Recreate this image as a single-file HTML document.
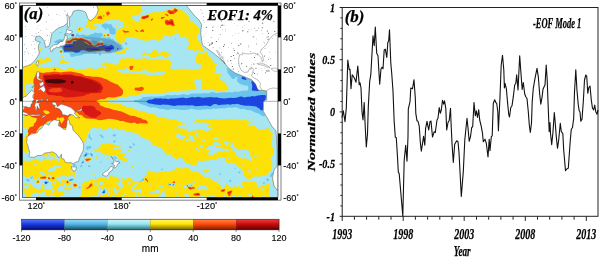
<!DOCTYPE html><html><head><meta charset="utf-8"><title>EOF Mode 1</title><style>html,body{margin:0;padding:0;background:#fff}svg{display:block}</style></head><body><svg width="600" height="258" viewBox="0 0 600 258">
<defs><clipPath id="mc"><rect x="22.5" y="5.4" width="255.5" height="192.1"/></clipPath>
<linearGradient id="g0" x1="0" y1="0" x2="0" y2="1"><stop offset="0" stop-color="#5a7cf8"/><stop offset="0.45" stop-color="#1c3ce4"/><stop offset="1" stop-color="#040a6a"/></linearGradient>
<linearGradient id="g1" x1="0" y1="0" x2="0" y2="1"><stop offset="0" stop-color="#9adcfc"/><stop offset="0.45" stop-color="#56b8e4"/><stop offset="1" stop-color="#0e4c64"/></linearGradient>
<linearGradient id="g2" x1="0" y1="0" x2="0" y2="1"><stop offset="0" stop-color="#d2f8fc"/><stop offset="0.45" stop-color="#98e4ee"/><stop offset="1" stop-color="#1e6e7a"/></linearGradient>
<linearGradient id="g3" x1="0" y1="0" x2="0" y2="1"><stop offset="0" stop-color="#fff870"/><stop offset="0.45" stop-color="#ffe400"/><stop offset="1" stop-color="#6e6000"/></linearGradient>
<linearGradient id="g4" x1="0" y1="0" x2="0" y2="1"><stop offset="0" stop-color="#ff8a50"/><stop offset="0.45" stop-color="#ff4a08"/><stop offset="1" stop-color="#7a1c00"/></linearGradient>
<linearGradient id="g5" x1="0" y1="0" x2="0" y2="1"><stop offset="0" stop-color="#f04040"/><stop offset="0.45" stop-color="#cc0c0c"/><stop offset="1" stop-color="#5a0000"/></linearGradient>
</defs>
<rect width="600" height="258" fill="#fff"/>
<g clip-path="url(#mc)">
<rect x="22.5" y="5.4" width="255.5" height="192.1" fill="#1c44e0"/>
<path d="M19.6,2.4 280.6,2.4 280.6,200.4 19.6,200.4ZM45.6,181.7 44.8,182.4 44.7,182.9 45.6,184 46.1,183.9 47.6,182.4 47.2,181.9ZM73.6,41.3 73.1,41.7 72.9,42.4 73,44.4 72.3,45.4 71.6,45.7 69.6,45.9 67.6,44.4 66.6,44.2 65.3,44.4 64.7,44.9 63.6,49.9 64.1,51.6 64.6,51.8 72.1,51.6 76.1,52.7 77.6,52.6 79.1,52 80.6,50.7 82.6,49.8 83.6,48.2 84.6,47.6 85.6,48 88.2,50.4 89.6,51 94.1,50.7 96.6,50.9 98.1,50.3 100.1,48.8 101.1,48.5 102.1,48.7 103.1,49.2 106.1,51.4 109.1,51.5 111.6,49.8 113.6,49.2 114.1,48.4 114.1,47.4 113.4,45.9 111.1,44.4 110.3,44.9 109.4,45.9 108.6,46.1 106.6,46.3 104.1,45.1 99.6,45.9 96.6,47.2 90.1,47.9 89.4,47.4 87.6,44.8 85.1,43.4 74.6,41.3ZM117.6,47.8 116.9,48.9 117.6,49.5 118.1,49.2 118.5,48.4 118.1,47.7ZM243.6,76.4 242.1,77.1 241.6,77.9 241.6,78.4 242.1,78.9 246.1,79.9 246.6,79.4 246.3,78.9ZM251.6,81.2 251.4,82.4 252,84.4 252.3,86.4 251.8,88.9 252.3,90.4 253.1,90.8 255.1,90.7 257.6,91 259.4,90.4 259.6,89.9 259.2,88.9 257.8,86.9 257,86.4 257,84.9 256.6,83.9 252.1,80.9ZM261.6,95 256.6,95.8 254.6,96.4 252.1,96.1 250.1,96.7 247.6,96.7 244.1,97.4 241.6,96.6 240.6,96.6 236.1,97.8 233.6,98 230.6,97.7 224.6,98.5 219.6,98.1 216.6,97.3 213.6,97.5 211.1,97 202.6,97.7 198.1,96.7 195.1,97.5 192.1,97.1 186.6,98.3 185.6,98.2 183.1,97.4 175.1,98.4 170.1,98.4 168.1,99.2 166.1,98.5 162.6,98.8 160.6,98.3 158.6,98.6 155.6,98.2 154.6,98.4 152.1,99.6 148.6,99.7 146.2,101.4 147.1,102.5 149.1,103.6 151.6,103.8 155.1,104.6 160.1,104.9 163.6,104.5 165.6,104.8 168.1,104.7 171.1,105.5 174.6,105.9 178.1,105.3 181.6,105.6 184.1,105.3 189.1,105.6 192.1,105.3 195.6,106.3 206.1,105.6 209.6,106.3 211.1,106 213.1,104.6 214.6,104.1 216.1,104.1 218.1,105.1 219.1,105.3 221.1,104.8 226.1,104.6 228.1,104.3 230.6,104.7 232.6,103.9 234.6,104.2 237.6,103.8 241.1,105.1 245.6,105.7 249.6,105.8 256.1,106.5 259.9,108.9 260.6,110 261.6,110.6 262.1,110.5 262.6,109.9 263.6,107.9 263.9,105.9 263.5,102.4 265.4,99.4 266,96.4 265.7,95.4 265.1,95ZM70.1,179.7 69.2,180.4 70.1,180.5 72.8,179.9 72.6,179.5 72.1,179.4ZM83.1,161.8 82.3,162.4 82.1,162.9 82.6,162.9 83.3,162.4 83.4,161.9ZM85.6,154.2 84.5,155.9 84.6,156.1 85.6,156 86.5,154.9 86.6,154.1 86.1,153.9ZM91.6,154.1 91.3,154.4 91.4,154.9 92.1,155.6 92.3,154.9ZM104.1,190.4 102.6,192.2 102.7,192.9 103.1,193.1 104.1,193.2 104.9,192.4 104.6,190.9ZM170.6,184.3 169,184.4 169.6,185 170.6,184.9ZM173.1,184.4 172.7,184.9 173.1,185.3 173.9,184.9 174.2,184.4ZM187.6,185.3 187.1,185.5 187.1,186.4 187.6,186.4 187.9,185.9ZM76.8,44.4 77.8,44.4 78.4,44.9 77.1,44.9Z" fill="#6cc4ee"/>
<path d="M19.6,2.4 280.6,2.4 280.6,200.4 19.6,200.4ZM26.1,179.3 25.9,179.9 27,180.9 28.6,181.6 29.5,181.4 29.6,180.4 28.6,179 27.6,178.9ZM29.1,91.8 29.1,92.1 29.6,92 30.1,92.9 30.6,92.4 30.6,91.9 30.1,91.4ZM31.6,176.6 30.3,177.9 30,178.9 30.6,178.9 33.1,177.7 33.1,176.9 32.6,176.5ZM43.1,157.9 44.6,158.4 45.3,157.9 44.6,157.8ZM49.6,137.6 49.4,137.9 49.5,138.4 50.6,139.8 51.2,139.9 52.3,138.9 52.5,138.4ZM61.8,32.4 58.3,31.9 60.3,32.9 61.8,32.9ZM94.6,32.7 93.6,33.7 91.6,34 87.6,35.6 85.6,35.2 83.1,34.2 79.1,35.2 78.7,34.9 78.4,33.9 77.1,33.3 76.3,33.9 76.3,35.4 75.1,36.6 74.1,36.9 72.1,36.6 71.4,37.4 75.1,37.4 77.1,36.5 78.6,37 80.6,36.8 82.1,37.1 86.6,38.9 90.1,39 91.3,39.9 91.4,40.9 92.5,42.4 93.2,43.9 94.1,44.4 96,43.9 96.6,43.3 97.4,41.9 98.1,41.3 100.1,40.9 100.6,40.3 101.6,40 102.6,40.8 102.9,41.9 104.5,42.9 104.6,43.9 104.3,44.4 102.6,45.1 99.8,45.4 96.6,46.6 90.6,47.5 89.6,46.9 88.1,44.4 85.6,42.9 78.6,41.7 74.6,40.7 73.6,40.7 73.1,41 72.5,41.9 71.7,44.4 71.1,44.9 70.1,45.2 67.6,43.7 66.6,43.6 64.6,43.8 62.7,42.9 62.1,42.4 62.5,41.4 62.3,40.4 61.1,39.1 60.1,39.1 56.6,40.2 54.2,41.4 54.2,41.9 54.6,42.5 55.3,42.9 59.1,43.4 59.8,44.9 61.4,46.9 62,49.4 63.1,50.9 63.6,52.9 64.6,53.1 67.1,52.8 69.6,53.4 70.2,53.9 70.2,55.9 71.1,56.7 72.1,57 73.6,56.8 76.6,55.7 78.1,55.8 81.6,55.3 84.1,54 88.6,52.9 92.1,52.5 94.6,53.4 96.1,52.5 100.1,52.1 102.6,50.9 104.1,51.2 106.1,52.6 110.6,53 112.6,52 115.1,51.6 118.6,50.4 120.6,50.2 123.1,48.9 123.5,48.4 123.5,47.9 123.1,47.7 120.5,47.4 121.2,45.9 117,43.4 114.1,40.8 112.6,38.4 111.8,38.9 111.1,38.9 109.1,37.1 108.6,37.1 107.1,38.3 105.6,37.6 103.1,37.2 101.6,38.3 101.1,38 100.8,37.4 100.9,36.9 101.6,36.7 102.6,37.3 102.5,34.9 102.7,33.9 102.4,33.4 100.6,32.8 97.6,33.3 96.6,33.1 95.6,32.5ZM104.6,23.2 101.6,24.8 101.2,25.4 103.1,27.4 104.6,28.2 104.7,29.4 105.1,29.7 106.1,29.7 106.7,29.4 106.9,27.9 108,27.9 109.4,30.9 109.5,32.9 110.1,33.9 111.1,34.3 113.6,34.8 114.9,34.4 115.6,33.4 115.7,29.4 114.6,28.2 113.1,27.8 111.6,24.5 111.1,24.1 109.1,24.4 107.6,23.8ZM126.1,42.3 125.1,42.7 124.7,43.4 125.2,44.4 126.1,44.8 127,44.4 127.3,43.9 127.1,42.9ZM129.1,146.2 128.6,146.9 128.9,147.4 130.6,148.2 131.6,148.2 132.3,147.4 131.6,146.6ZM132.6,142.9 133.4,145.4 134.1,145.6 134.8,145.4 135.1,144.9 134.9,144.4 133.3,142.9ZM175.6,38.3 175.2,38.4 175.2,38.9 175.6,39.6 176.1,39.8 176.3,38.9ZM226.6,67.9 226.4,68.4 227.3,69.9 227.4,72.4 231.6,78.1 232.6,79 234.1,79 235.5,77.4 236.6,76.7 237.1,76.8 237.6,77.9 236.8,79.9 237.6,81.9 240.1,84 243.5,84.9 244.1,85.4 247.1,85.5 247.9,86.4 248.5,87.9 248.2,89.4 247.6,90.2 246.6,90.7 243.6,90.4 238.1,91.8 234.6,91.6 231.6,92.4 229.6,92 226.6,92.4 224.6,92.2 222.1,92.4 220.6,92.2 218.6,93.1 217.6,93.2 212.1,92 208.1,93.4 205.6,93.1 200.6,93.5 191.6,93.6 187.6,95.1 183.6,93.9 181.1,94.8 178.1,95.2 174.1,94.8 171.6,95.6 169.6,95 166.6,95 163.1,96.3 160.6,96.2 153.6,96.7 150.1,96.4 145.1,97.1 143.1,97.1 142.6,97.2 141.1,98.9 137.6,100.1 134.6,100.1 133.9,100.9 133.8,101.4 134.6,102.1 138.1,102.4 139.6,103.5 143.1,104.8 145.1,105.3 147.6,106.6 150.6,107.4 154.1,107.3 157.1,107.9 160.1,109.1 163.1,109.1 166.1,109.8 168.6,109.8 173.1,109.1 176.6,109.6 178.6,109.6 180.1,109.9 185.1,110.1 189.1,109.6 191.1,108.8 195.6,109.7 198.1,109.7 200.1,110 202.1,109.6 205.6,109.5 207.6,109.1 210.1,109.4 213.6,108.6 215.6,108.8 222.6,108.2 224.6,108.4 228.6,107.6 232.6,107.7 235.6,107.1 240.6,109.2 244.1,109 246.6,109.9 250.6,110.2 255.1,112.5 259.1,113.8 262.1,115.9 264.6,116.3 265,115.9 264.6,113.9 263.6,112.4 263.4,111.4 264.1,109.2 265.7,107.9 264.6,103.4 266.9,99.4 267.8,93.4 267.6,92.7 267.1,92.2 261.1,91 260.6,89.4 258.6,86.4 257.5,83.9 256.1,82.6 253.1,80.7 252.2,78.4 251.1,77.2 250.5,75.4 249.6,74.4 248.1,74.1 246.1,74.6 244.1,74.5 241.6,74.9 238.1,73.4 232.6,69.3 230.1,69.4 227.6,68ZM272.1,171.9 271.1,173.9 269.9,175.4 270.1,176.4 270.6,176.9 271.4,176.9 272,176.4 272.4,174.9 273.4,173.9ZM276.1,173.8 275.9,174.4 276.1,174.7 276.6,174.7 277.2,174.4 277.1,173.8ZM44.6,181.2 44,181.9 44.1,182.9 45.6,184.6 46.6,184.4 47.6,183.1 49.2,182.4 49.1,181.9 48.1,181.5 46.1,181.1ZM50.1,149.5 49.3,149.9 50.1,150.4 51.1,149.9ZM57.1,152.7 57,153.4 57.6,154.2 58.6,154.5 59.8,154.4 58.1,152.8ZM63.7,154.4 61.1,154.6 60.6,154.9 62.6,155.7 64.1,155.4 64.1,154.9ZM70.6,178.8 68.9,179.9 68.6,180.4 68.7,180.9 69.6,181 72.6,180.5 73.5,179.9 73.6,179.4 73.1,178.7ZM73.1,163.2 72.8,164.4 73.2,165.9 73.6,166.3 74.1,166.4 75.5,165.9 75.6,164.9 74.6,163.4 73.6,162.9ZM79.6,186.5 79.1,187.1 78.9,187.9 79.1,188.3 79.6,188.5 80.5,187.9 80.6,187.4 80.1,186.5ZM81.1,164.5 80.6,164.9 80.4,165.9 80.5,166.9 81.1,167.3 81.9,166.9 82.3,165.9 81.6,164.7ZM83.1,160.3 81.2,162.9 81.6,163.7 83.1,163.2 84.3,161.9 83.9,160.9ZM86.6,152.1 85.1,153.1 84.6,154.4 83.3,155.9 83.3,156.4 84.1,157.1 85.1,157.1 86.1,156.7 87.6,154.8 89.6,154 90.1,154.3 91.6,156.4 92.6,156.6 93.1,156 92.7,154.4 91.6,153.1 90.6,153.1 89.6,153.7 87.7,152.9ZM90.1,133.8 89.6,134 88.6,135.4 88.5,136.9 89,137.9 91.6,140.1 92.1,139.7 92.1,138.9 89.9,136.4ZM99.6,53.2 99,54.9 99.6,55.7 100.1,55.6 101,54.9 101.1,53.9 100.6,53.2 100.1,53.1ZM104.6,188.8 103.2,189.9 101.9,192.4 102.1,193.4 102.6,193.7 104.6,193.6 105.5,192.4 105.3,189.4ZM111.1,162.8 110.3,163.4 110.5,163.9 111.1,164.1 113.1,164.2 113.8,163.9 114,163.4 113.8,162.9 113.1,162.6ZM113.6,134.2 112.7,134.9 112.5,135.4 113.1,136.4 114.1,136.5 116.1,135.9 115.9,134.9 115.3,134.4 114.6,134.1ZM118.1,160.6 117.2,162.9 117.4,163.4 118.6,164.1 119.6,164.1 120.4,163.4 120.3,162.9 119.1,161 118.6,160.5ZM143.6,178.3 141.1,180.5 139.1,181.5 139.6,181.7 141.1,181.4 144,179.9 144.1,178.9ZM161.6,168.5 161.1,169.4 161.5,169.9 162.2,169.9 163.1,169.4 163,168.9 162.1,168.4ZM168.1,183.8 168.3,184.4 169.6,185.3 170.6,185.4 171.2,184.9 171.2,184.4 170.1,183.7 168.6,183.6ZM173.1,183.8 171.9,184.9 172.1,185.5 173.1,186 174.1,185.6 174.8,184.4 174.1,183.7ZM188.1,184.9 187.1,184.9 186.6,185.9 187.1,186.9 187.6,186.8 188.5,185.9ZM191.6,184.8 190.7,185.4 190.6,185.9 191.1,186.4 191.9,186.4 192.3,185.9 192.1,184.9ZM219.1,172.9 218.7,173.4 219.6,174.7 220.1,175 220.9,174.9 220.7,173.9ZM230.1,179.6 229.5,180.4 229.2,181.4 230.1,181.9 231.1,181.5 231.5,180.9 231.1,179.9ZM235.1,167.8 234.5,168.4 235.1,169.2 235.6,169 235.8,168.4ZM239.1,171.3 238.3,172.4 238.3,172.9 238.6,173.3 239.1,173.3 240.9,172.4 240,171.4ZM263.1,182.3 262.7,182.9 262.9,183.4 263.6,183.7 265,183.4 265.6,182.9 265.1,182.4ZM267.1,178.1 266.5,178.9 266.8,180.9 267.1,181.2 268.6,180.9 268.9,180.4 268.8,179.4 267.8,178.4ZM88.6,165.3 88,165.9 87.9,166.4 88.6,167.1 89.6,167.2 90.4,166.4 90.5,165.9 89.6,165.2ZM90.1,145.4 89.1,146.4 87.6,146.1 86.6,147 86.2,147.9 86.6,149.9 87.1,149.9 88.6,148.8 90.7,148.4 91.2,146.9 90.7,145.9ZM95.1,177.8 95.6,178.4 96.2,177.9 95.6,177.4ZM99.6,134.4 99.3,134.9 102.1,137.8 103.1,138.3 103.6,137.9 103.6,136.9 102.9,135.9 101.1,134.7ZM114.6,140.3 113.2,140.9 113.1,141.9 113.6,142.5 114.6,142.6 115.5,141.4 115.6,140.9 115.2,140.4ZM100.6,161.4 100,161.9 100.1,162.4 101.6,162.4 101.6,161.8ZM114.1,156.3 113.5,156.9 114.6,157.8 115.1,159 116.1,159.3 116.6,158.4 116.2,156.9 115.3,156.4Z" fill="#a6e6f2"/>
<path d="M145.6,2.9 146.1,2.5 147.1,2.5 148.5,3.4 148.6,3.9 147.6,4.6 145.6,4.5 145.1,3.9ZM124,3.4 124.6,3.3 125.6,5.5 126.1,5.8 128.6,5 130.6,4.8 134.6,5.5 136.1,4.3 137.6,3.7 139.1,3.9 140.3,4.9 140.9,5.9 141.5,8.9 143.6,11.9 143.1,11.9 141.6,11 141.1,11 140.7,11.4 140.5,13.9 139.6,14.7 137.1,14.7 135.1,15.1 133.1,14.7 132.6,15 132.1,15.9 132.7,18.9 132.6,20.4 134.6,20.3 135.3,20.9 138.6,22.3 139.1,22.2 139.7,21.4 140.5,16.9 141.6,15.4 142.6,14.8 144.1,15.2 145.1,15.1 148.6,14 152.1,12.4 156.6,12 159.6,12.5 162.6,11.6 164.6,11.3 165.7,10.9 168.1,9 171.6,9.3 172.1,9 173.1,7.7 174.1,7.2 175.6,7.4 177,8.9 178.1,9.4 180.1,9 181.7,9.4 182.3,9.9 183.4,11.9 186,12.9 187.6,15.4 189.9,17.4 190.1,18.4 189.6,19.2 189.5,20.4 190.1,21.4 192.6,22 194.2,22.9 197.2,25.4 199.1,28.5 199.5,29.9 199.6,31.7 199.1,32.9 197,35.4 196.7,36.9 197,39.4 197.6,40.5 200.1,41.5 201.2,45.9 203.6,48.9 203.9,49.4 204,50.4 203.1,51.2 201.6,51.6 198.1,50.2 197.1,50.2 194.6,50.9 193.1,50.5 190.6,49.2 189.6,49 187.6,49.5 186.6,49.4 186.6,48.7 187.8,47.9 188.2,45.9 190,42.9 189.6,41.7 187.5,40.9 187.7,39.4 188.9,37.9 188.6,37.6 186.1,38.6 185.4,37.9 184.6,36.2 182.1,37 180.7,36.9 179.4,35.4 179.1,33.4 178.6,32.8 178.1,32.7 176.1,33.9 173.6,34.7 170.1,36.7 169.6,36.8 166.1,35.4 164.6,35.6 162.6,37.4 162.4,39.4 162.1,39.6 158.1,41 155.6,39.5 150.6,38.9 150.1,39 149,40.4 148.1,40.9 145.6,40.4 144.1,40.7 142.1,40.1 139.6,40.1 138.6,39.8 137.2,38.4 135.6,37.6 133.1,37.8 130.6,37.3 127.6,37.6 126.6,38 125.8,38.9 125.1,40.9 124.1,41.4 123.1,42.3 121.6,42.9 120.6,43 118.1,42.3 117.4,41.9 117.3,40.9 116.9,40.4 115.6,39.7 115,38.9 114.8,35.9 115.8,34.9 116.3,33.9 116.4,30.9 116.6,30.2 122.1,27.8 122.8,26.9 123.6,23.9 123.1,22.1 121.5,21.9 119.1,20.2 118.1,19.8 116.1,20 112.1,19.6 110.1,19.9 108.6,20.5 106.1,20.4 104.1,21.4 102.6,22.9 100.1,23.9 97.6,23.4 93.6,24.2 92.4,25.4 92.6,26 93.6,26.3 96.1,26.2 98.5,27.4 98.1,27.7 96.6,28 91.6,30 90.9,29.9 90.2,28.4 88.6,27.2 84.9,26.9 85.5,25.4 86.2,24.9 87.5,22.9 88.2,18.9 88.5,18.4 90.6,17.4 94.1,17.3 96,15.9 96.7,14.4 96.4,11.9 97.6,11.1 98.1,9.9 98,6.4 101.9,4.9 103.1,4.7 104.1,5 106.1,6 108.6,6.3 109.1,6.2 110.6,4.5 111.6,4.2 112.5,4.4 114.6,5.6 117.1,5.3 121.6,6 122.6,5.4ZM125.6,25.6 125.6,26.9 126.1,27.3 126.6,27 126.6,26.4 126.1,25.7ZM175.1,30.1 174.9,30.4 175.6,31 176.1,31.1 176.8,30.9 176.1,30.3ZM191.1,36.7 190.3,37.4 191.6,37.9 192.4,37.4 192.4,36.9 192.1,36.5ZM88.6,25.4 88,25.9 88.2,26.4 88.6,26.6 89.2,25.9ZM72.9,21.4 73.6,21 76.1,21.4 75.8,21.9 73.6,22.5 73.1,22.2ZM115.6,25.9 116.6,25.7 117.8,26.4 117.4,26.9 116.6,26.9 115.8,26.4ZM78.6,27.4 79.6,27.2 82.6,27.4 84,27.9 81.5,29.4 80.6,31.4 79.6,32.1 77.6,31.6 76.8,30.9 77.1,28.8ZM85.6,33.4 86.1,33 87.6,33.6 88.3,34.4 86.3,34.4ZM107.6,33.5 108.6,33.6 109.7,34.9 109.9,35.4 109.4,35.9 107.6,36.5 106.1,36.2 104.6,36.7 103.7,36.4 103.3,35.9 103.2,34.9 103.6,34.3 105.1,34 106.6,34.4ZM81,37.4 82.1,37.6 87.6,40 91.1,41.9 91.8,42.4 92.5,44.4 93.1,44.9 94.1,44.9 95.9,44.4 96.7,43.9 98.1,42.1 98.6,42 100.1,43 101.6,42.5 103.1,42.6 103.6,42.9 104,43.9 103.7,44.4 102.6,44.8 99.6,45.2 96.6,46.3 91.1,47.3 90,46.9 89,44.9 88.1,43.9 85.6,42.4 79.1,41.4 74.6,40.3 73.1,40.5 72.4,41.4 71.1,43.8 70.1,44.3 67.1,43.1 65.1,43.3 64.1,42.9 64.1,42.4 66.6,40.1 67.6,39.8 70.1,39.8 72.1,38.2 77.1,37.6 79.1,37.9ZM221.9,41.9 222.2,41.9 222.6,42.4 222.1,42.7 221.6,42.5 221.5,42.4ZM57,45.9 58.1,45.8 59.6,46.3 60.1,46.9 59.9,47.4 58.9,47.4 57,46.4ZM127.8,47.4 128.8,47.4 129.1,47.9 125.1,50.4 125.1,51.2 125.8,52.4 125.9,52.9 125.6,53.2 119.1,54.1 116.6,54.2 116.1,53.9 115.8,52.9 116.6,52 120.6,51.2 124.1,49.4 125.1,48.2ZM40.5,47.9 41.6,47.6 42.4,48.4 41.6,51.1 41.3,51.4 40.6,51.3 40.4,50.9 40.2,48.9ZM59.3,51.4 61.1,50 62.1,50.4 62.8,51.4 62.6,52.4 62.1,52.7 61.1,52.8 59.5,52.4 59.2,51.9ZM153.3,50.4 154.6,50 156.1,50.2 157.2,50.9 158.5,52.9 159.1,53.1 164.1,51.1 165.1,51.2 168.1,53.2 170.1,53.9 170.6,54.4 170.5,55.4 170.1,56 167.6,56.6 166.1,57.6 165.1,58 164.1,57.6 163.5,55.9 162.6,55.4 161.6,55.5 160.1,56.3 157.6,56.2 155.1,57.1 152.1,57.6 150.6,57.1 149.1,55.6 147.1,54.5 145.6,54.4 143.6,55.5 143.1,55.4 142.4,54.4 142.2,53.9 142.5,53.4 144.6,52.3 146.6,52.9 151.1,53.2 151.7,52.9 152.6,51ZM197.9,52.4 198.6,52.3 201.1,53.4 202.1,53.5 205.1,52.1 206.1,51.9 207.1,52.3 207.6,52.9 208,54.9 208.6,56.1 209.1,56.6 210.6,57.1 212.1,58.7 213.2,62.4 213.6,62.9 216.1,63.2 217.4,63.9 217.7,64.9 216.1,66.1 215.6,67 215.4,70.4 214.2,72.4 214.6,72.9 218.1,73.4 221.2,74.4 221.3,75.4 219.2,77.4 219.2,78.4 220.6,80.1 224.1,81.7 225.8,84.4 228.2,86.4 228.4,88.9 227.6,90.5 225.6,90.8 219.6,90.8 217.1,91.2 216.1,91 214.1,89.7 213.1,89.4 210.6,89.3 208.1,90.3 202.6,89.4 201.8,88.4 201.5,86.4 201.7,84.4 202.4,81.4 201.6,79.9 201.9,79.4 201.1,78.8 200.1,78.8 197,79.4 193.4,80.9 193.4,81.4 195.7,84.4 195.7,85.9 196.6,88.9 196.4,89.4 195.6,89.7 192.6,89.8 190.6,89.5 188.1,90.4 186.1,90.7 184.1,90.4 181.6,90.5 178.6,91.1 176.1,90.9 172.1,92.1 169.6,91.9 167.1,92.5 165.1,92.4 162.1,93.7 159.6,93.1 156.1,93.7 153.1,93.3 147.6,94.1 145.1,93.7 141.6,93.7 138.6,95 135.6,95.5 132.1,95.3 126.6,97.1 123.1,96.7 119.6,97.2 118.1,97.9 117.1,99.4 111.6,99.5 109.6,100.2 107.1,100.5 106.3,100.9 106.4,101.4 109.6,102.8 112.1,102.4 116.6,103.4 120.1,103.8 126.1,106.8 133.1,108.3 136.6,110.2 142.6,111 147.6,112.9 153.6,113.8 154.6,114.4 155.6,116 158.1,117 162.1,117.3 168.1,118.9 174.1,119.5 175.6,119.4 177.6,121 181.9,122.4 186.1,125.4 185.6,125.5 182.6,124.6 180.1,125.1 178.6,125 178,125.9 177.7,127.4 179.6,128.4 182.1,128.2 183.6,129.2 186.6,128.2 186.6,128.9 186,129.9 189.6,131.7 193.1,130.6 196.1,130.8 197.4,129.4 198.1,129.1 200.6,129.9 203.1,130 206.1,131.3 210.6,130 211.8,129.4 212.1,128.9 212.2,127.9 211.6,127.1 209.1,127.6 207.9,126.9 207.8,125.9 208.1,125.5 210.1,124.4 210.3,123.9 209.1,123 202.1,122.5 199.6,122.8 197.1,122 194.6,123 194.1,122.8 194,122.4 194,121.9 194.8,120.9 197.1,119.4 199.6,119.8 202.6,119.6 205.1,118.9 208.6,119.7 213.1,118.9 217.6,119.7 221.1,119.8 223.6,119.1 226.6,119.7 231.1,118.6 233.6,119.5 236.1,119.8 238.6,119.7 241.1,120.4 242.8,119.9 242.6,119.5 241.2,119.4 244.1,119.5 244.6,119.2 246.1,119.2 246.6,119.7 247.3,121.4 248.6,122.3 250.1,122.1 252.1,120.6 252.6,120.6 253,120.9 252.1,122 250.6,122.5 248.6,123.9 248.1,125.4 248.6,126.3 251.1,126.2 254.1,125.4 254.6,125.6 256.2,127.4 259.6,129.7 263.6,129.5 266.6,128.6 268.1,127.9 268.6,128 269.5,130.4 271.6,132.9 273,133.9 272.2,136.9 272.6,139.4 271.3,141.9 271,143.9 271.2,144.9 272.7,146.9 273.2,148.4 273.5,150.4 273.2,152.4 273.6,153.9 273.3,154.9 271.1,156.5 270.6,157.9 271.5,161.9 273,165.4 271.6,166.7 271.3,167.4 271.4,168.4 272.3,169.4 272,169.9 270.6,170.7 269.1,172.2 267.2,173.4 266.8,174.9 266.1,175.7 265.1,175.9 263.1,175.7 260.1,176.5 254.1,176.6 252.6,177.3 251.6,178.4 250.6,179 249.1,179.2 247.7,178.9 246.2,177.9 243.5,174.9 243.2,173.9 243.2,171.9 242.8,170.9 240.6,168.6 235.8,164.4 231.1,162.4 230.1,162.6 228.1,163.6 227.1,163.1 224.9,160.4 224.7,159.4 224.9,158.9 225.9,158.4 226,157.9 225.1,157 221.1,158 218.6,158.1 216.4,159.9 215.6,160.2 213.6,159.1 212.6,159.4 212.1,160.3 210.6,159.8 208.1,160.5 205.6,160.4 203.6,160.8 201.1,162.1 200,161.9 198.6,160.4 197.1,160.2 196.8,160.4 196.7,160.9 197,162.4 196.8,164.9 196.1,165.5 194.6,165 192.6,165.2 191.1,164.6 186.6,163.6 185.2,162.4 182.6,158.4 182.1,158 181.1,157.7 179.6,157.7 178.6,158.2 177.6,159.2 176.6,159.4 174.6,158.1 173.1,158.2 172.6,158 172.1,156.9 172.6,155.4 171.6,154.6 170.1,154.3 168.1,154.8 165.1,154.3 164.6,151.9 163.2,149.4 162.6,148.9 160.1,147.7 158.1,147.1 156.6,146.1 153.1,145.3 151.3,143.4 150.3,140.9 149.6,140 147.6,139.2 144.6,138.5 142.1,136.9 139.2,135.9 138.7,135.4 138.7,134.4 138.3,133.9 131.6,131.9 129.6,131.9 126.1,131.3 123.6,129.7 122.6,129.3 121.5,129.4 119.6,130.5 119.1,130.4 117.1,128.8 115.1,128.1 114.1,128.4 113.1,129.5 112.6,129.6 111.1,128.2 109.1,127.6 106.1,129.6 103.1,130.3 102.2,129.9 101.1,128.5 99.6,127.7 98.1,128.6 97.1,128.8 94.1,127.4 93.6,127.5 91.6,128.3 88.9,131.4 88.2,133.9 87.3,135.4 87,136.9 86,138.9 86.5,141.4 84.6,142.2 83.6,142.4 79.6,141.6 78.8,140.9 79.1,139.4 78.7,138.4 74.4,134.9 73.2,132.4 73.1,129.4 72.6,129 70.6,128.7 68.6,126.9 67.6,126.8 67.1,127 66.1,128.7 61.6,129.5 60.6,129.2 58.2,125.4 58.5,124.9 58.1,123.4 58,121.9 57.6,121.2 54.6,122 50.6,121.5 49,121.9 43.1,126.1 40.3,127.4 38.1,130.3 37.4,132.9 36.1,134.4 33.1,135.3 30.1,137.3 29.4,141.9 30.3,143.9 30.4,144.9 27.4,147.9 27.6,148.4 29.6,149.7 30.8,150.9 31.4,152.4 31.1,153 29.6,151 29.1,150.9 26.6,152.9 23.6,152 23,151.4 22.3,149.4 20.9,147.9 20.9,146.9 21.7,144.9 22.2,139.4 22.6,138.7 24.6,137 26,134.4 26.9,133.4 27.1,132.4 26.9,130.9 27.6,128.9 27.1,128.5 25.1,128.6 23.6,128 22.4,125.4 22.4,124.4 24.3,119.4 24.4,118.4 24.3,116.9 23.6,114.6 21.8,111.4 22,110.4 23.8,107.9 23.6,106.5 21.8,103.9 21.7,102.9 21.9,101.9 22.8,100.9 23.5,99.4 23.4,97.9 22.5,96.4 22.2,94.9 23,90.9 23.1,88.4 24.4,85.9 24.4,85.4 22.5,83.4 22.4,82.4 22.8,79.9 21.8,76.9 22.6,74.9 22.5,71.9 22.9,70.9 22.7,69.9 23.3,67.9 22.3,65.9 22.6,65.2 24.6,64.7 27.1,65.5 27.6,65.4 28.6,64.8 30.5,64.4 31.3,63.4 32.1,63.1 34.6,64 35.5,63.4 37,60.4 40,58.4 41.6,58.1 42,58.4 42.3,59.9 43.6,60.2 44.6,59.7 45.7,57.9 46.6,57.3 51.1,58.9 51.4,60.4 51.1,60.7 49.1,61.3 47.1,62.6 44.1,62.8 41.6,64.2 39.1,64.6 37.7,65.9 37.6,66.4 38,66.9 39.1,67.1 41.1,66.4 43.3,67.9 44.6,68.2 46.1,68 48.1,67.1 49.1,66.9 50,67.4 50.6,68.8 51.1,68.7 51.9,67.4 52.6,66.8 56.6,66.7 58.6,67.2 61.1,69.3 64.6,70 65.5,69.9 69.4,67.4 70.6,67 71.9,67.4 74.1,69.1 76.6,69.7 79.1,69.5 81.6,68.8 84.6,69 90.1,68.1 92.6,68.4 96.1,69.6 97.1,69.3 99.2,67.4 103.1,66.5 104,66.9 104.6,68.7 105.6,68.9 106.1,68.7 106.6,68 106.6,66.6 105.1,66 103.6,64.9 101.6,64.7 101.4,64.4 102.6,63.4 104.1,62.7 106.1,62.3 108.6,63.1 111.1,63.4 113.6,64.6 116.6,64.6 118.5,63.9 119.2,61.4 120.6,58.9 121.6,58.2 122.6,58.2 123.6,59.2 124.1,59.2 125.6,58.2 130.6,58.4 132.6,57.5 134.1,58.8 135.1,59 141.1,58.8 144.1,58.1 145.8,58.4 148.1,59.2 151.6,59.6 153.6,59.6 157.1,58.8 160.1,60.2 162.1,59.6 164.6,60 169.1,60.1 170.9,61.4 171.4,62.4 170.3,67.9 170.3,68.4 170.6,68.8 173.1,69.1 175.6,70 178.6,68.7 183.1,68.8 185.1,68.6 188.6,69.8 192.1,70 194.6,69.6 196.6,69.7 200.1,68.6 202.4,67.4 202.4,66.9 201.4,65.9 200.6,64.1 200.1,63.8 199.1,64.5 198.1,64.3 195.4,61.4 195.4,59.4 196.3,56.9 196.3,55.4 197.4,53.9ZM158.1,120.2 157.1,120.9 157.1,121.9 158.1,122.2 158.7,121.9 158.7,120.4ZM168.1,141.8 167.9,142.4 168.6,143 169.1,143 169.8,141.9 169.1,141.5ZM175.6,127.7 174.6,128.4 174.8,128.9 176,128.9 177,127.9 176.6,127.6ZM177.1,133.2 175.6,136.9 175.6,137.5 179.6,138.4 180,139.4 180.6,139.9 181.6,140.1 182.6,139.8 183.1,139.4 183.4,138.4 185.2,136.4 184.6,135.5 183.1,134.7 180.6,134.8 178.1,133ZM189.1,133.7 188.5,134.4 188.6,134.9 189.8,135.9 190.3,137.9 189.6,138.4 187.1,138.9 185.6,139.5 185.1,139.9 185,140.4 185.3,140.9 186.1,141.5 186.6,141.4 188.1,140.6 189.6,140.3 193.1,141 194.7,140.9 195,140.4 194.6,139.4 192.8,137.9 193.5,136.9 193,136.4 190.8,135.4 189.7,133.9ZM197.6,131.5 196.9,132.4 195.4,133.4 195.4,133.9 196.1,134.8 197.1,135.4 196.4,136.4 196.4,136.9 197.1,137.4 197.6,137.4 198.5,136.9 198.5,136.4 197.6,135.5 197.2,135.4 198.1,134.8 198.6,133.9 198,131.9ZM201.1,145 199.5,145.9 199.3,146.4 200.1,147.5 202.1,147.3 203.3,146.4 203.2,145.9 202.1,145.1ZM202.1,139.4 202,139.9 203.1,141.6 205.6,142 206.7,141.9 206.8,141.4 203.6,139.6ZM213.1,137.2 212.8,137.9 213.6,139.4 214.1,139.6 218.6,139.6 219.2,139.4 219.5,138.9 215.6,137.1ZM222.6,138.4 221.4,138.9 221.6,139.4 222.6,139.6 223.5,139.4 223.5,138.9 223.1,138.5ZM225.1,140.8 224.1,142.4 224.2,142.9 225.8,145.4 226.6,145.8 227.6,145.7 228.1,145.4 228.1,143.8 229.5,142.9 229.2,142.4 226.9,140.9 225.6,140.5ZM231.6,131.3 231.2,131.9 231.6,132.3 232.1,132.2 232.3,131.9 232.1,131.4ZM239.1,131.8 238.7,131.9 238.7,132.4 239.1,133 239.6,133.1 240,132.9 240.1,132.4ZM255.1,154.3 253.9,155.4 254.1,156.4 256.1,156.7 257,156.4 257.2,155.9 256.7,154.9 255.6,154.3ZM32.1,83.8 28.6,84.3 26.6,84.1 26.2,84.4 25.3,88.4 26.1,93.4 30.1,94.6 32.1,93.6 33,92.4 33.2,86.9 32.9,84.9 32.6,84.2ZM89.8,127.4 88.3,127.4 88.3,127.9 88.6,128 89.5,127.9ZM126.1,68.3 124,69.9 120.6,69.8 118.6,70.1 117.1,69.9 116.6,70.9 117.1,71.6 117.6,71.8 119.1,71.8 122.6,73.1 128.6,72.8 131.6,73.2 133.1,74 135.1,73.8 141.6,74.2 144.1,74 147.7,74.9 151.1,75.3 153.6,74.8 156.1,75.1 162.6,74.7 164.4,73.9 165.3,72.4 164.1,71.6 162.6,71.7 159.6,71 158.1,71.3 155.6,72.5 150.1,72.6 149.1,72.2 147.6,70.6 145.6,70.2 142.1,70.5 139.1,71.6 137.6,71.7 135.1,71 131.6,71 129.1,70.6 128.6,70.2 127.6,68.2 127.1,68ZM175.6,147.2 175.3,147.4 175.5,147.9 176.1,148.2 177.6,147.9 177.3,147.4ZM189.1,144.8 189.1,145.4 189.6,145.7 190.1,145.4 190,144.9ZM196.6,147.4 195.6,147.9 195.8,148.4 197.2,149.4 198.1,151.1 199.1,151.4 199.6,151 200,149.9 199.6,149.1 199.1,149 197.6,149.2 197.4,147.9ZM214.6,141.7 213,143.9 212.8,144.9 212.1,145.6 210.1,145.7 209.1,146.1 207.1,147.3 206.4,148.4 206.4,149.4 207.1,150 208.6,150 209.9,150.9 209.9,151.9 209.6,152.2 208.1,152.6 208,152.9 207.9,153.9 208.6,154.7 210.6,155.9 212.1,155.9 213.4,155.4 213.6,154.9 212.6,153.4 213.1,152.7 213.6,152.7 214.6,153.9 215.1,154 215.9,152.9 216.7,152.4 219.1,151.6 221.1,151.6 224.1,150.4 224.6,150.4 225.6,151.5 226.6,152 227.6,151.6 228.6,150.9 228.9,149.9 228.1,148.8 225.6,149 224.1,148.6 221.5,148.4 218.6,147.1 216.1,147.3 215.6,146.9 215.6,146.4 216.1,145.7 219.6,146.2 220.6,145.8 221,144.9 219.9,143.4 219.1,142.9 216.1,141.5ZM232.1,141.2 231.5,141.9 231.4,142.4 232,143.4 231.7,143.9 230,144.9 229.4,145.4 229.5,145.9 231.1,146.9 233.2,147.4 233.2,147.9 231.6,148.9 231.4,149.4 231.5,149.9 235.6,151.7 236.2,152.9 236,154.4 236.2,154.9 241.6,158.8 244.6,158.2 247.6,159.1 249.1,160.4 250.1,160.8 251.6,160.5 252.5,159.9 252.5,158.9 250.7,156.9 250.4,154.9 248.9,152.9 249.3,151.4 248.7,150.4 245.6,149.3 243.1,149.8 240.6,148.9 239.6,150.7 237.1,149.5 236.6,148.9 236.6,148.3 237.1,147.9 236.7,147.4 234.6,146.8 233.1,145.4 233.2,144.4 232.3,142.9 232.5,141.9ZM256.6,168.1 256.2,168.4 256.6,169.5 257.6,170 258.7,169.9 258.8,169.4 258.4,168.9 257.6,168.3ZM216.1,154.8 215.6,155.9 216.6,156.1 217.4,155.4 217.1,154.8ZM229.1,158.1 227.4,158.4 227.8,158.9 229.6,158.9 229.6,158.4ZM243.6,163.9 242.1,164.4 242.1,164.9 243.1,165.4 244,164.9 244.2,164.4ZM249.1,169.6 247.6,171.4 249.6,172.9 250.1,173 250.5,172.4 250.5,170.4 250.1,169.8ZM60.8,55.9 62.1,54.9 62.6,55 62.9,56.4 62.6,57.7 60.7,56.4ZM63.1,58.9 64.3,60.4 65.1,60.9 68.6,61.7 69.1,61.9 69.2,62.4 68.6,62.7 65.6,63 63.6,64 60.6,63.8 60.1,63.5 59.6,62.4 59.9,61.4 61.1,60.1 62.6,58.9ZM108.4,142.9 110.1,142.7 112.6,144.4 115.1,144.7 117.6,146 119.1,145.8 120.1,146.1 120.4,146.4 120.1,146.9 118.1,146.7 115.1,147.3 113.1,148.9 112.9,149.4 116.1,149.7 119.1,148.4 120.1,148.5 121.7,149.4 122.1,149.9 122,150.4 120.6,151.9 120.3,152.4 120.4,152.9 121.1,153.4 122.6,153.8 124.6,153.2 125.1,153.3 125.3,153.9 125.1,154.8 123.7,155.9 123.7,156.4 125.2,157.9 127.7,158.9 128.2,159.4 127.8,160.4 126.6,160.7 124.6,161.9 123.1,161.9 123,160.9 122.5,160.4 119.1,159.5 117.6,156.4 116.1,155.1 114.1,155 110.1,155.9 106.1,154.3 104.1,154.7 103.6,154.6 101.6,152.4 97.1,151.1 96.6,151 95.1,152.1 94.6,151.9 94.2,150.4 95.1,149.1 96.6,149.2 99.6,148 100.5,147.4 100.8,146.9 100.1,145.4 101.1,144.1 102.6,143.4 104.6,144.3ZM124.7,149.4 125.6,149.3 125.9,149.9 124.6,149.9ZM128.1,149.4 129.2,149.4 129.7,149.9 129.6,150.4 128.6,150.9 127.4,150.4 127.2,149.9ZM51.2,151.9 53.1,152 55.5,154.4 55.8,155.4 55.1,156.7 54.6,156.8 53.1,156.2 50.6,156.5 49.1,156 46.6,156.6 45.1,156.6 43.1,156.2 41.6,155.2 40.6,154.8 38.1,155.1 37.9,154.9 42.6,152.5 45.1,153.3 47.1,152.5 48.1,154.4 49.1,155 50.2,154.4 50.2,153.4 48.5,152.4 49.1,152 50.1,152.2ZM241.1,152.4 241.7,152.9 241.6,153.7 241.1,153.7 240.8,153.4 240.6,152.9ZM243.8,154.4 245.1,154 245.2,154.4 244.6,155 244.1,155.2 243.6,154.9ZM96.9,154.9 97.6,154.6 98.1,154.9 97.8,157.9 97.1,158.6 96.1,158.7 95.5,158.4 95.6,157.9 96.4,156.9 96.5,155.4ZM59.1,159.4 60.6,157 61.1,157 64.6,157.1 65.1,157.4 66.1,158.9 67.1,159.3 68.5,158.9 69.6,157.8 69.8,157.9 69.8,158.9 71.4,160.9 71.8,161.9 71.4,164.9 71.7,167.4 70.4,170.9 71.6,174 72.1,174.5 73,173.9 72.2,172.4 72.2,171.4 72.4,170.4 73.3,169.4 75.1,169.1 76.2,170.9 76.2,171.4 74.8,173.4 74.6,174.9 74.3,175.4 74.8,176.4 74.6,177.5 72.1,175.5 68.6,176.5 62.6,176.1 58.6,177.1 56.1,177 55.5,177.4 56.1,178.8 58.3,179.4 58.2,180.4 58.6,181.4 60.6,183 61.5,182.9 61.6,182.4 61.2,181.4 61.5,180.4 63.1,179.5 65.6,180 67.1,179.5 67.6,179.6 68.6,181.2 70.5,181.9 71,182.4 70.9,183.4 70.1,184.4 66.1,186.8 65.6,186.7 65.5,186.4 65.8,184.4 65.6,183.9 64.1,182.5 62.9,182.4 62.3,182.9 62.6,183.1 63.2,184.4 63.2,185.4 62.7,185.9 62.1,186.2 60.6,186 59.6,186.3 57.3,188.4 57.4,189.4 58,190.9 58.5,191.4 61.6,191.4 64.8,192.9 63.5,193.9 62.6,195.6 62.1,196.1 60.6,195.7 59.8,195.9 58.6,197.3 58.1,197.3 56.1,197.1 54.1,194.7 53.1,194.8 48.5,196.4 45,195.4 44.6,194.4 45.6,192.4 45.1,191.7 44.6,191.6 43.1,192.2 41.4,192.4 40.2,193.9 39.6,194.1 39.1,193.9 38.1,192.5 37.6,192.3 34.1,193.1 30.9,194.9 30.6,196.5 29.6,197.6 28.6,197.6 26.6,196.8 25.9,195.9 24.7,192.9 22.8,191.4 22.4,190.4 25.1,187.6 25.9,188.4 27.1,189 27.6,189 28.6,188.4 29.2,186.9 28.3,185.4 28.4,184.9 29.6,183.9 31,183.9 31.6,185.4 32.5,186.4 35.6,187.6 37.1,189.3 38.1,189.6 39.6,189.4 41.6,187.9 42.2,186.4 41.8,184.9 42.6,184.2 44.1,184.4 44.7,184.9 44.8,185.9 43.9,187.9 44.6,189.3 45.6,189.9 48.6,189.9 50,189.4 51,188.9 51.6,187.2 53.2,186.9 53.3,186.4 51.2,183.9 52.6,181.9 50.6,180.9 48.4,180.4 47.6,178.4 47.1,178 45.6,179.1 40.6,179.5 39.4,178.9 39.1,176.6 38.6,176.8 37.9,178.4 38.4,179.4 39.4,180.4 39.5,182.4 39.1,183.1 38.1,183.6 36.1,183.7 35.3,183.4 35.3,182.9 37,180.4 36.6,179.6 35.6,179.1 35.1,179.2 33.7,180.4 33.1,180.5 32,179.9 32.5,178.9 33.6,178.4 33.9,177.9 33.1,176.1 31.6,176 29.1,177.1 27.6,177.4 26.1,177.1 23.1,175.7 22.1,175.7 21.1,176.1 20.2,175.9 20.1,174.9 22.1,172.4 22.7,168.9 22.4,166.4 20.9,162.4 20.9,161.4 21.2,160.4 22.1,159.9 25.1,160.8 28.6,161 31.6,160.6 32.6,160.3 33.8,158.9 35.1,158.6 38.1,159.5 39.3,161.4 40.6,161.8 41.4,161.4 42.1,160.4 43.6,160.6 46.6,159.3 47.6,159.4 49.1,160.1 50.6,160.4 54.1,158.9 55.1,158.2 56.1,158.4 56.6,158.8 57,161.4 57.6,161.8 59,161.4ZM52.1,188.7 51.3,189.4 51,192.4 50.7,192.9 49,193.9 49.1,194.7 49.6,194.8 50.1,194.5 51.6,193.1 53.1,192.6 54.4,191.4 54.6,190.4 54.1,189.2 53.1,188.6ZM35.1,163.8 34.1,164.4 34.1,165.3 36.1,166.2 36.6,164.4 36.1,163.8ZM40.6,170.9 40.1,171.4 39.9,172.4 41,173.9 41.2,175.4 41.6,175.6 44.1,175.3 45.5,174.9 45.7,174.4 45,173.4 44.1,172.9 43.1,172.8 41.6,171.2ZM55.6,165.2 51.6,167.7 49.6,168.2 48.1,170.2 47.6,171.9 48.1,172.2 48.6,172.2 49.6,171.2 51.6,171.9 53.4,171.9 53.9,170.9 55.8,169.9 56.3,167.9 60.6,167.4 61.1,166.9 60.8,165.9 60.1,165.4ZM48.6,174.4 47.6,174.9 48,175.9 49.6,176.9 50.9,176.9 51,175.9 50.6,175.1 49.6,174.5ZM54.6,181 52.7,181.9 54.6,183.4 55.8,183.4 56.1,182.4 55.1,181.1ZM106.6,158.4 107.6,157.6 108.1,157.7 108.6,158.4 108.3,158.9 107.1,158.9ZM75.9,158.4 76.6,158.1 77.1,158.3 77.5,158.9 77.4,159.4 76.6,159.7 76.1,159.4ZM84.6,158.4 86.6,158.4 88.6,158 91.6,158 91.9,158.4 91.6,159.4 90.6,160.3 87.6,161.8 86.6,162 85.7,161.4 84.3,159.4ZM132,158.9 133.2,158.9 133.7,159.4 132.1,160 131.7,159.4ZM132.4,165.4 133.1,165.1 133.6,165.4 133.8,165.9 133.4,167.4 132.6,168 131.6,167.5 131.1,166.4ZM175.9,167.9 176.6,167.5 178.1,167.5 181.1,168.8 186.1,167.6 187.1,167.6 189,168.4 190.1,170 191.6,171 194.1,171.1 196.1,171.7 197.6,171.2 199.1,172.9 200.6,173.4 203.9,176.4 205.6,177.6 206.6,177.8 209.6,177.6 211.2,179.4 216.2,181.9 217.6,182.8 219.1,184.3 221.4,185.4 220.6,186.9 220.7,187.4 221.1,188 222.1,188.5 223.1,188.4 224.1,188 225.3,186.4 224.1,186 224,185.4 227.1,184.1 227.6,184.2 228.1,185.9 229.1,186.4 232.6,187.1 234.6,186.4 236.6,186.7 238.6,186.1 239.7,186.4 240.5,187.4 241.1,187.8 242.1,187.8 242.9,187.4 243,186.4 241.2,183.9 241.1,182.9 243.1,181.9 246.1,181.1 247.1,181.1 250.1,181.8 254.6,181.9 256.3,182.4 257.1,182.9 257.1,183.4 256.4,185.4 257.6,186.8 259.6,187.4 261.1,185.8 263.1,184.9 265.6,185.3 268.1,182.9 268.6,183.1 269.2,184.4 268.9,186.9 269.8,189.9 269.1,194.4 268.1,194.9 267.8,195.4 268.1,195.7 269.1,195.5 269.7,195.9 269.9,196.9 269.7,197.9 269.1,198.4 266.6,197.7 266.1,197.8 265.1,198.9 264.6,199 263.8,198.4 264.8,196.4 264.1,196 262.6,195.8 261.9,196.4 262,197.9 261.7,198.4 261.1,198.6 259.6,198.7 256.6,198.1 254.6,199.2 251.1,199.7 246.1,197.1 245.1,197.1 243.1,197.9 242.1,197.7 241.1,196.3 239.6,195.3 239.1,195.5 238.1,196.9 237.1,197.2 235.8,196.9 234.1,195.5 233.6,195.4 232.6,195.7 229.8,198.4 228.6,198.8 225.5,197.9 225,196.9 225.1,195.2 224.6,194.7 224.1,194.6 223.5,196.4 222.9,196.9 219.1,198 217.1,197.8 216.1,197.4 215.5,196.9 215.1,195.4 214.6,194.9 211.1,195.1 210.1,195.9 210.2,196.4 211.3,197.4 209.1,197.6 206.1,198.6 205.1,197.9 204.1,195.9 202.6,195 201.6,195.3 199.6,197.4 198.5,199.4 196.6,199.8 195.5,199.4 194.3,197.9 193.6,197.5 191.1,197.7 190.4,197.4 187.6,193.6 186.6,193 185.6,193.4 184,194.9 184.3,195.4 185.2,195.9 185.4,196.4 184.6,198.9 184.1,199.5 182.1,199 179.1,196.6 177.6,196 174.6,197 172.6,197 170.6,198.5 168.6,198.3 166.6,198.7 165.3,198.4 166.3,197.4 166.3,195.9 164.5,192.4 163.6,191.4 161.5,192.4 160.7,194.4 159.1,195.5 158.1,197.1 157.6,197.4 156.1,196.9 155.6,197.1 154.6,198.2 153.6,198.7 150.1,198.5 147.6,198.7 146.9,198.4 145.6,196.8 144.6,196.3 139.1,196.7 136.8,195.9 136.2,192.9 137.1,192 138.1,191.5 138.9,191.9 139.5,193.4 139.9,193.9 141.1,194 141.2,191.9 142.2,189.9 141.6,188.8 140.6,188.4 139.1,188.5 137.6,189.8 133.6,189.1 133.5,188.4 134.1,187.4 137.1,184.4 137.2,183.9 136.1,183 135.6,183 134.6,184.4 132.7,185.9 131.5,189.9 131.6,190.4 132.1,190.8 133.6,191 134.1,191.3 135.5,192.9 135.5,193.4 134.4,194.9 134.4,195.4 135.5,196.4 134.1,198.4 132.6,198.4 128.6,197 126.6,197.9 125.6,197.9 122.6,196.3 119.6,197.2 116.1,197.2 115.2,196.9 114.1,195.6 113.6,195.4 112.1,195.9 110.8,197.4 110.1,197.6 106.6,197.5 101.6,198.9 101.1,198.5 100.5,196.9 99,195.4 99.1,194.4 99.6,193.6 100.1,193.3 100.7,194.9 101.6,195.7 102.1,195.7 105.1,194 107.1,192.6 108.3,191.4 108.3,190.9 107,189.4 106.4,188.4 105.6,187.9 104.1,188.3 102.1,189.8 101.4,188.4 99.1,186.9 98.3,185.9 97.6,183.2 97.1,182.8 95.1,182.3 94.6,182.4 93.3,183.9 93.6,184.4 96.1,184.2 97.1,184.9 97.9,185.9 98.8,189.9 97.9,194.4 96.6,196.3 94.6,195.9 92.6,196.6 90.1,196.5 89.1,196.7 85.1,198.7 80.6,199.1 80.2,198.9 80.2,196.9 81.6,193.4 81.6,192.9 80.7,191.4 81.1,189.9 82.6,187.9 82,183.9 82.2,183.4 85.1,181.5 86.1,181.4 87.9,181.9 88.2,180.9 88.9,180.4 91.6,180 93.1,179.4 95.1,180.2 96.1,180.2 98,178.9 99.1,177.3 100.1,176.8 100.8,176.9 101.6,177.7 104.1,177.8 107.6,178.9 108.6,178.4 109.6,176.8 110.6,176.1 114.1,176.8 116.1,176.4 116.8,177.4 118.6,178.4 120.3,180.4 120.6,181.4 119.6,182.7 119.1,182.8 117.6,182.2 116.6,182.2 116.2,182.9 116.2,183.4 116.6,183.9 118.6,185.1 119.6,188.1 120.1,188.4 121.1,188.3 122.9,187.9 123.7,186.9 123.6,185.3 122.1,183.4 122,181.9 122.3,180.9 123.6,179.6 124.6,179.1 126.6,178.6 128.6,177.7 130.6,177.9 132.6,180.8 135.6,181.5 136.9,181.4 138.1,182.6 139.1,182.6 143.1,181.3 144.7,179.9 143.7,176.9 146.1,176.1 146.7,175.4 146.9,174.4 146.6,172.4 147.1,170.4 147.6,169.9 148.1,169.9 148.6,170.4 148.2,171.4 148.6,172 152.1,171.7 155.1,172.4 159.1,172.2 164.1,171 167.1,171.5 168.6,170.8 170.6,171.1 172.6,170.8 174.1,170.1ZM176.1,170.7 175.7,171.4 176.1,172 177.6,172 178.1,171.4 177.6,170.6ZM181.1,183.3 180.6,183.7 180.3,185.4 180.6,186 181.6,186.1 182.3,185.9 182.3,185.4ZM191.6,183.9 189.1,184.3 187.6,184.1 186.6,184.7 186.1,185.5 184,185.9 183.8,186.4 184.2,188.4 184.6,188.7 186.1,187.8 187.1,187.6 189.1,186.1 189.6,186.1 191.1,186.9 192.1,186.8 192.9,185.9 193,184.9 192.6,184.2ZM193.1,182.1 192.6,182.4 192.5,182.9 193.1,183.3 194.1,183.4 195,182.9 194.6,182ZM195.1,186.1 195.1,187 195.6,187.5 196.1,187.5 196.2,186.9ZM196.6,190.7 196.1,191.1 196.1,192 196.6,192.2 197.9,191.9 197.6,191.2ZM200.1,185.1 197.8,187.4 197.7,187.9 199.1,190.4 199.6,190.7 200.1,190.5 201.1,188.9 202.1,188.5 204.1,188.8 206.6,190.3 207.6,189.9 208,189.4 208.2,187.9 207.1,186.9 205.1,186 202.6,186ZM209.1,182.1 209.6,183.3 210.1,183.2 210.1,182.6 209.6,182ZM212,188.9 210.9,188.9 211.1,189.6 211.6,189.9 212.1,189.6ZM249.1,193.4 248.2,194.4 247.9,195.4 249.1,196.7 250.1,196.8 250.6,196.6 251,195.9 250.8,194.4 250.1,193.2ZM253.6,186.4 252.2,186.9 251.9,187.4 252.1,187.7 253.7,186.9ZM262.6,188.3 261,189.4 260.6,189.9 260.6,190.4 261.6,190.6 263.1,190.5 264.9,189.4 264.8,188.9 264.1,188.3ZM100.1,181.3 99.3,181.9 98.9,183.4 99.6,184.4 101.1,185.8 101.6,185.6 103.4,183.4 103.9,182.4 103.5,181.9ZM109.6,187.3 108.9,187.9 108.7,188.4 109,188.9 109.6,189.1 110.6,188.5 110.8,187.9 110.6,187.4ZM114.6,187.6 113.9,188.4 113.2,190.9 114.6,192.3 114.6,194 115.6,194.5 116.6,194.4 117.1,193.9 117.6,192.2 118.7,191.9 119.1,190.4 118.6,189.8 116.6,190.6 116,189.9 115.7,187.9 115.1,187.5ZM123.6,193.2 123.1,193.8 123.1,194.4 123.6,195.1 124.6,195 125,194.4 125,193.9 124.6,193.4ZM129.1,181.8 128.1,182.4 127.9,183.4 128.6,184.6 129.6,184.8 130.6,184.2 130.8,182.9 130.1,182ZM143.1,181.9 142.9,182.9 143.1,183.4 143.6,183.6 144.1,183.3 144.2,182.4ZM149.6,184.2 149.2,184.9 149,186.4 149,186.9 149.6,187.3 150.1,186.9 150,185.9 150.7,184.4 150.1,184ZM163.4,185.4 160.1,185.9 158.1,186.9 153.9,186.9 154.1,187.2 156.6,188 158.6,187.5 160.6,188.3 162.1,186.7 163.5,186.4 164,185.9ZM167.6,182.9 166.6,183 166.4,183.4 169.6,185.6 170.6,186 171.6,185.6 172.6,186.7 173.6,186.7 174.5,186.4 175.5,184.9 175.4,183.9 174.1,183.4 171.6,184.1 170.1,183.2ZM176.6,191.5 176.4,192.9 176.6,193.5 177.1,193.4 177.4,192.9 177.1,191.7ZM177.6,187.3 177.1,187.4 176.8,187.9 177.1,189.1 177.6,188.7 178,187.9ZM207.1,193.7 206.6,194.9 207,195.9 208.1,196.5 209.3,196.4 209.6,195.9 209.3,195.4ZM109.6,191.8 107.4,193.4 106.8,195.4 106.7,195.9 107.1,196.3 108.1,196.3 108.6,196 109.9,193.9 110.3,192.4 110.1,191.9ZM157.6,189.8 156.1,190.1 154.1,191.1 151.1,191.3 150.1,191.9 149.8,192.4 149.9,192.9 150.6,193.4 152.6,193 154.1,193.2 155.6,192.5 157.6,193.6 158.6,193.7 159.7,192.9 159.7,191.4 159.1,190.2ZM163.6,189.4 163,189.9 163.6,191.3 164.8,190.4 164.8,189.9ZM171.6,190.3 171.1,190.7 171.1,191.2 172.1,191.8 172.5,191.4 172.4,190.9 172.1,190.4ZM208.1,169.6 210,169.4 208.4,171.4 206.1,172.8 202.1,171.4 202.6,170.5 203.1,170.2 205.6,169.6ZM92.2,173.9 93.6,173.7 94.3,173.9 94.7,174.4 94.4,174.9 93.6,175.1 93,174.9ZM131,175.9 131.6,175.5 131.9,175.9 131.8,176.4 131.1,176.4ZM215.1,176.4 215.6,175.9 216.1,176 216.6,176.9 216.1,177.3 215.6,177.2 215.1,176.9ZM121.3,177.9 122.1,177.6 122.7,177.9 123,178.4 122.6,178.9 122.1,178.9 121.1,178.4ZM217.9,179.4 218.4,180.4 218.5,180.9 218.1,181.1 217.5,180.4 217.6,179.5ZM272.1,179.9 272.6,179.4 273.1,179.9 273.1,180.9 272.6,181.3 272,180.9ZM278.7,179.9 279.2,179.9 279.6,180.4 279.1,181.1 278.4,180.9 278.2,180.4ZM72.6,182.4 74.1,182.6 77.9,184.4 78.1,185.4 76.2,187.9 75.6,187.9 74.1,187.4 72.7,186.4 72.7,183.9 72.2,182.9ZM24.2,183.4 25.6,183.3 26.4,183.9 27.1,184.9 26.6,185.9 26.1,186 23.9,184.4 23.5,183.9ZM273.5,185.9 275.6,185.2 276.1,185.4 276,186.4 274.6,187.5 274.1,187.7 273.6,187.6 273,186.9 273.1,186.4ZM68.6,188.1 71.1,186.9 71.6,187 71.8,187.4 71.6,188.4 68.1,190.5 66.1,189.7 64.1,190 63.6,189.4 64.2,188.4 65.6,187.4 67.1,188.4ZM66.2,192.4 67.6,192.3 68,192.9 67.6,193.5 66.1,193.8 65.3,192.9ZM38.5,195.4 39.1,195.4 39.5,195.9 39.3,196.4 38.6,196.7 37.6,196.6 37.4,196.4 37.5,195.9Z" fill="#fce006"/>
<path d="M174.4,8.4 175.1,8.3 177.6,9.9 178,10.4 177.6,11 175.6,12.4 173.6,14.1 170.1,14.3 167.4,11.9 167.4,10.9 168.1,10.2 169.1,10.1 172.1,10.7 173.1,10.5ZM106.5,11.9 108.1,11.5 109.1,11.7 109.8,12.9 109.9,13.9 109.6,14.3 107.6,15.6 107.1,15.7 106.7,14.9 106.2,12.4ZM164.3,13.9 165.1,13.7 167.6,14.6 168.5,15.4 168.5,15.9 167.6,16.2 167.1,16ZM103.2,15.4 103.6,15.2 104.3,15.4 104.5,15.9 104.2,16.4 103.5,16.4 103,15.9ZM144.6,16.1 147.6,15 148.6,15.1 149,15.9 148.9,16.9 148.1,17.6 144.1,19.3 142.6,19.2 141.5,18.4 141.3,17.4 141.8,16.4ZM99.3,15.9 100.6,15.5 101.5,15.9 102.3,17.9 102.1,18.9 101.6,19.3 99.6,18.8 97.6,18.8 97.2,18.4 97.6,17ZM161.6,17.1 164.8,16.9 164.9,17.4 162.1,19 161.6,19.1 161.1,18.7 160.9,17.9 161.1,17.3ZM152.3,18.4 153.1,18.2 153.3,18.9 152.1,20.6 151.6,20.8 151,20.4 150.6,19.4ZM169.6,20 170.6,19.1 171.6,19.1 173.2,19.9 173.9,22.9 174.6,24.4 174.6,25.4 174.1,26.3 173.1,26.2 170.1,24.7 167.1,25.2 166.1,24.7 165.3,23.9 164.9,22.9 164.9,21.4 165.1,20.4 165.6,19.9 166.6,19.6 168.6,20.4ZM79.3,28.4 80.1,28.2 80.3,28.4 80.1,29.5 79.6,30.1 78.9,29.4ZM140.5,30.4 142.6,29.2 143.6,29.8 144.1,30.9 144.1,32.1 143.6,31.7 140.6,31.8 140.1,31.6 140.1,30.9ZM135.5,29.9 136.1,29.8 137.1,30.4 138.3,31.4 138.5,31.9 137.6,32 135.6,31 135.2,30.4ZM122.7,30.4 123.1,30.1 125.1,31.1 128.1,30.9 129.5,31.9 129.1,32.3 124.6,32.8 123.6,32.1ZM107.5,34.4 108.1,33.9 108.6,34.1 109.2,34.9 109.2,35.4 108.1,36 107.4,35.9 107.2,35.4ZM103.8,35.4 104.6,35 105.3,35.4 104.6,36 104,35.9ZM80.8,37.9 81.6,37.9 86.1,39.7 90.8,42.4 91.4,42.9 92.1,44.9 92.6,45.3 94.6,45.2 96.1,44.6 98.6,42.8 100.1,43.5 101.6,42.9 102.6,42.8 103.6,43.4 103.7,43.9 102.6,44.6 99.6,44.9 97,45.9 92.8,46.9 91.1,47 90.1,46.5 88.6,43.9 85.6,42 78.6,41 74.6,40 73.6,40 72.8,40.4 71.1,42.7 70.1,43.5 65.3,42.4 67.6,40.8 70.1,40.6 71.8,38.9 72.6,38.4 76.6,38.2 79.1,38.5ZM59.8,51.4 61.1,50.5 61.6,50.6 62.3,51.4 62.3,51.9 61.6,52.4 60.1,52.2 59.8,51.9ZM130.1,66.1 133.1,65.9 133.5,66.4 133.4,66.9 132.1,69.7 131.6,70 130.6,69.9 129.7,68.9 129.5,66.9ZM54,68.9 55.1,68.7 56.2,69.9 54.6,70.2 53.6,70 53.7,69.4ZM50.1,72.3 54.6,71.6 61.1,72.5 63.1,72 66.1,71.8 71.1,71.6 73.4,71.9 81.1,73.5 84,74.9 85.6,76.1 88.1,76 92.6,76.8 96.6,76.7 101.6,77.6 103.6,78.6 107.1,79.4 110.1,81.6 112.6,82.4 115.6,83.9 117.6,84.5 122.9,89.9 123,92.9 122.2,94.9 121.6,95.6 120.6,96 114.1,97.4 108.1,97.3 104.6,99.1 103.6,99.3 101.1,99.1 97.2,100.4 96.3,100.9 96.6,101.4 99.4,102.9 99.7,103.4 99.8,104.9 100.3,105.4 103.1,106.4 105.6,107.8 108.1,108.1 114.1,110 116.1,110.2 117.6,110.8 121.6,111.5 130.6,115.7 134.6,116 138.1,117.6 140.6,118 142.8,119.4 145.1,119.8 146.1,120.3 147.7,121.9 147.9,122.9 147.1,123.5 140.1,123.2 137.1,124 134.6,122.6 131.1,123.3 128.6,122.4 126.1,122.2 123.6,121.1 120.1,121 117.6,120 112.6,119.1 108.6,118.7 102.1,120.1 99.6,120.3 95.1,119.1 86.6,118.4 84,117.4 81.6,115.1 80.1,115.1 79.1,114.7 76.6,112.3 75.1,111.8 74.1,112.4 72.8,113.9 69.1,116.5 67.9,117.9 67.5,118.9 67.9,120.9 67.8,122.4 66,127.9 62.1,128.6 61.1,128.5 59,125.4 59.6,124.9 59,123.4 58.8,120.9 59.1,119.9 59.6,119.6 60.9,122.9 61.6,123.4 62.1,123 62.9,121.4 64.4,119.4 64.2,118.4 63.6,117.7 62.6,117.3 61.1,117.5 59.6,118.3 58.6,117.6 57.6,117.6 56.4,118.4 56.4,120.4 55.6,120.9 54.1,121 50.1,120.6 47.6,121.4 43.7,124.9 40.6,126.3 39.6,127.1 36.9,130.4 36.1,133 35.1,133.5 32.1,133.1 31.1,133.4 29.6,134.9 28.6,137.2 28.1,137.6 27.8,137.4 27.6,136.4 28.5,133.9 27.8,131.4 28.1,129.8 30.1,127 32.6,126.5 34.1,125.5 33.5,124.9 34.2,123.4 36.2,121.4 36.8,118.9 36.7,118.4 36.1,117.9 33.1,117.4 31.8,116.9 30.1,115.8 29.6,114.9 28.6,115.1 26.6,116 24.6,115.4 22.4,111.4 22.5,110.4 23.9,108.9 24.4,107.9 24.3,106.9 23,104.4 22.8,102.9 23.1,102.4 24.1,102 25.3,100.9 26.6,98.8 27.1,98.7 28.6,99.6 30.1,100 32.6,98.8 33.6,97.6 33.7,94.9 34.4,92.9 33.9,90.4 34.3,86.4 33.4,81.9 33.4,80.4 34,78.4 35.3,75.9 36.1,73.4 36.6,72.9 38.1,72.4 40.6,72.5 43.1,72.9 46.6,72.2ZM44.1,110.3 43.4,110.9 43.5,111.9 46.1,114.4 48.6,113.7 49.7,112.9 49.4,111.9 48.1,110.9 45.1,110.2ZM138.1,87.7 141.6,86.8 142.6,87.1 143.6,87.7 143.9,88.4 143.7,89.4 142.1,90.7 140.8,90.9 135.6,90.4 134.6,89.8 134.6,88.4 135.6,87.5ZM146.2,124.4 147.1,124.2 147.7,124.4 147.1,124.8ZM85.6,159.1 88.6,158.6 91,158.9 90.9,159.4 90.1,160 87.6,161.1 86.6,161.3 85.1,159.4ZM40.6,176.9 44.6,176.5 45.6,176.6 46.1,177.1 46.2,177.9 45.9,178.4 45.1,178.6 42.1,178.7 40.6,178.5 40.1,177.9 40.1,177.4ZM53.2,176.9 54.1,177 54.5,177.4 54.6,178.4 54.1,178.8 53.1,179.2 51.3,178.4 51.4,177.9ZM48.1,177.9 48.6,177.1 49.1,177.2 50.4,178.4 49.1,179.6 48.3,178.9ZM144.8,178.9 145.1,178.2 146.1,178.6 147.2,179.4 148.1,181.6 148.1,182.4 147.6,182.3 146.8,180.9 145.1,179.7ZM37.5,180.9 38.1,180.6 38.7,180.9 39.1,181.9 38.6,182.4 37.6,182.7 36.7,182.4ZM66.3,181.9 67.6,180.8 68.7,181.9 68.6,182.4 67.6,183.2 67.1,183.1 66.3,182.4ZM172.8,181.9 174.1,181 174.6,181.5 175.1,182.9 174.6,183.2 172.4,182.9ZM90.8,183.4 91.6,183.2 92.1,183.6 92.5,184.9 92.1,185.7 89.1,188 86.6,189 86.2,188.4 86.4,187.9 88.6,186.4 89.8,184.4ZM73.6,183.9 74.1,183.7 76.6,184.5 77.2,184.9 77.2,185.4 75.6,186.4 74.1,186.4 73.6,185.4ZM168,185.4 169.3,185.9 169.1,186.3 168.6,186.2ZM188.4,186.9 189.1,186.7 191.6,187.4 193.1,186.8 194.4,187.4 194.9,188.4 194.6,188.9 194.1,189.1 193.1,188.6 191.1,189.4 190.1,189.5 188.1,188.3 187.9,187.4ZM221.1,190.1 224.6,189 225,189.4 224.8,190.9 224.1,191.4 222.1,191.9 221.1,191.5 220.6,190.9ZM228.6,191.2 231.6,190.6 232.4,190.9 230.8,194.4 229.1,196.4 228.5,195.9 227.1,192.4ZM194.1,193.6 198.6,192.7 199.5,193.4 200.1,194.9 199.6,195.8 197.6,195.6 195.1,195.8 194.6,195.3 193.6,195.3 193.2,194.9 193.2,194.4ZM252.1,195.4 252.6,195.6 254.1,197.4 254,198.4 253.2,198.9 251.6,198.9 251.1,198.4Z" fill="#f84a10"/>
<path d="M174.9,10.4 176.1,9.9 177.2,10.4 176.6,10.9 175.1,11.4 174.6,11.2ZM169.1,11.9 169.6,11.5 170.1,11.6 172.1,11.9 172.9,12.4 171.8,13.4 170.6,13.6 169.6,13ZM144.6,16.8 147.6,15.7 148.1,15.9 148.3,16.4 147.6,17.1 144.1,18.4 142.6,18.1 142,17.4 142.3,16.9ZM170.1,22 172.1,20.6 172.7,20.9 173.3,24.9 170.1,23.8 167.1,23.5 166.2,22.4 166.6,21.6ZM72.7,38.9 76.1,38.7 78.6,39.4 81.1,38.5 83.6,39.5 85.3,39.9 87.5,40.9 90.6,43 91.1,43.6 91.6,45.4 92.1,45.9 93.3,46.4 90.6,46.3 89.3,43.9 85.6,41.5 74.1,39.5 73.1,39.6 71.6,40.7 71.4,40.4 71.6,39.9ZM68.1,41.4 70.1,41.5 70.6,41.9 70.1,42.4 69.1,42.6 68.3,42.4 67.7,41.9ZM101.5,43.4 102.6,43.3 103.2,43.9 102.5,44.4 99.1,44.5 97.1,45.4 95.7,45.4 98.1,44 98.6,43.9 100.1,44.3ZM53.6,74 58.6,73.9 61.1,74.9 65.1,74.2 67.6,74.4 71.1,74.2 75.6,75.8 81.6,76.3 84.6,77.6 87.1,77.9 91.3,78.9 96.1,80.7 100.3,82.9 103,86.9 103.2,88.4 102.2,89.9 101.4,91.9 100.1,92.9 98.6,93.1 96.1,92.9 94.6,93.2 91.1,93 88.6,94.2 86.6,94.3 84.6,95.5 83.1,96 80.1,96.5 77.6,96.4 74.1,97.3 65.6,97.6 59.6,95.8 56.6,96.1 54.1,95.2 48.6,94.9 47.6,94.2 46.4,92.4 44.9,88.9 44.1,83.4 44.4,80.9 43.4,79.4 43.1,78.4 43.3,75.4 44.1,74.7 45.1,74.4 48.6,74.8ZM60.1,88 52.1,88.2 49,89.9 48.5,90.4 48.5,90.9 49.1,91.6 50.1,92.1 55.6,92.5 58.6,92.2 61.6,91.5 62.1,91 62.2,89.9 61.1,88.6ZM63.6,100.4 64.1,100.7 64.2,101.4 64.1,101.9 63.6,102.1 63,101.4 63.1,100.8ZM83.4,105.9 84.1,105.5 87.1,106 89.6,105.6 94.1,106.4 95.1,107.4 96.1,109.9 98.6,110.7 100.6,111.9 101.1,112.9 100.9,113.9 100.1,114.7 97.7,115.9 96.6,117.1 95.6,117.7 91.1,117.4 89.6,117 88.1,115.7 85.1,114.2 83.6,111.9 81.3,109.4 81.2,108.4ZM43.4,177.4 45.1,177.3 45.7,177.9 44.6,178.2 41.9,177.9ZM48.6,177.9 49.2,177.9 49.4,178.4 49.1,178.8 48.6,178.6ZM52.6,177.9 53.6,177.6 53.9,177.9 53.1,178.4ZM67.2,181.4 67.6,181.2 68.1,181.7 67.9,182.4 67,182.4 66.8,181.9ZM74.5,184.9 75.1,184.9 76.2,185.4 75.1,185.9 74.4,185.4ZM89.8,185.9 91.1,184.5 91.6,184.9 90.9,185.9 89.6,186.6ZM188.5,187.4 189.7,187.4 191,187.9 191.1,188.4 190.1,188.4 188.6,187.9ZM222.4,190.4 223.6,190 224.2,190.4 223.6,190.9 222.6,191.1 221.9,190.9ZM228.5,191.9 230.9,191.4 230.9,191.9 229.6,193 228.6,193.2 228.1,192.9 227.9,192.4ZM197.5,193.4 198.3,193.4 199,193.9 199.2,194.9 196.6,194.9 195.1,194.4ZM252,197.9 252.6,196.8 253.1,197.2 253.3,197.9 252.6,198.4 252.1,198.4Z" fill="#d81814"/>
<path d="M44,76 68,75 82,77.5 92,80.5 100,85 101,89 97,92 85,92.5 70,90 62,87 48,87 45,82Z" fill="#7a0000" fill-opacity="0.35"/>
<path d="M66.3,81.4 65.8,82.1 64.2,82.7 61.8,83.2 58.8,83.4 55.5,83.5 52.1,83.3 49.1,82.9 46.7,82.4 45.2,81.7 44.7,81 45.2,80.3 46.8,79.7 49.2,79.2 52.2,79 55.5,78.9 58.9,79.1 61.9,79.5 64.3,80 65.8,80.7Z" fill="#3c0606" fill-opacity="0.92"/>
<path d="M73.5,82.3 73.4,82.7 73.3,83.1 73,83.4 72.6,83.5 72.2,83.6 71.8,83.5 71.4,83.4 71.1,83.1 71,82.7 70.9,82.3 71,81.9 71.1,81.5 71.4,81.2 71.8,81.1 72.2,81 72.6,81.1 73,81.2 73.3,81.5 73.4,81.9Z" fill="#200" fill-opacity="0.95"/>
<path d="M123,47.2 121.2,49.8 116.4,51.9 109,53.4 99.8,54.1 89.6,54 79.4,53 70.3,51.4 63.1,49.1 58.5,46.5 57,43.8 58.8,41.2 63.6,39.1 71,37.6 80.2,36.9 90.4,37 100.6,38 109.7,39.6 116.9,41.9 121.5,44.5Z" fill="#3a4660" fill-opacity="0.22"/>
<path d="M110.9,47.2 109.6,48.9 106,50.1 100.3,51 93.3,51.3 85.6,51 77.9,50.2 71,48.9 65.6,47.3 62.2,45.5 61.1,43.8 62.4,42.1 66,40.9 71.7,40 78.7,39.7 86.4,40 94.1,40.8 101,42.1 106.4,43.7 109.8,45.5Z" fill="#3a4660" fill-opacity="0.25"/>
<path d="M63.2,46.6 67.5,44.2 74.3,43.6 77,40.3 80.7,39 84.3,42.2 89.8,45.6 96.7,46.9 103.3,46.9 109.6,47.1 112.2,49 109.8,51.2 104,50.2 96.7,51.1 88.7,51.7 83.3,49.7 76.7,50.4 70,51.1 63.7,49.8Z" fill="#474b5a"/>
<path d="M73.5,46.1 73.3,46.3 72.6,46.6 71.5,46.8 70.1,47 68.6,47.2 67,47.3 65.6,47.3 64.5,47.3 63.8,47.1 63.5,46.9 63.7,46.7 64.4,46.4 65.5,46.2 66.9,46 68.4,45.8 70,45.7 71.4,45.7 72.5,45.7 73.2,45.9Z" fill="#1626c4"/>
<path d="M100.3,49.4 99.9,49.6 98.9,49.8 97.4,49.9 95.4,49.9 93.3,49.9 91.1,49.8 89.2,49.6 87.6,49.4 86.6,49.2 86.3,49 86.7,48.8 87.7,48.6 89.2,48.5 91.2,48.5 93.3,48.5 95.5,48.6 97.4,48.8 99,49 100,49.2Z" fill="#1626c4"/>
<path d="M112.1,48.3 111.9,48.6 111.4,48.8 110.6,49 109.6,49.2 108.5,49.2 107.4,49.2 106.4,49 105.6,48.8 105.1,48.6 104.9,48.3 105.1,48 105.6,47.8 106.4,47.6 107.4,47.4 108.5,47.4 109.6,47.4 110.6,47.6 111.4,47.8 111.9,48Z" fill="#1626c4"/>
<path d="M74.3,35.2 74.2,35.5 74,35.8 73.6,36.1 73.2,36.2 72.7,36.3 72.2,36.2 71.8,36.1 71.4,35.8 71.2,35.5 71.1,35.2 71.2,34.9 71.4,34.6 71.8,34.3 72.2,34.2 72.7,34.1 73.2,34.2 73.6,34.3 74,34.6 74.2,34.9Z" fill="#474b5a"/>
<path d="M22.5,5.4 96.5,5.4 98.3,9.7 96.7,14.7 93.3,18.8 90,21 87.7,18 86,13 84.3,11.3 78,10 73.3,11.3 71.7,15.5 68.8,17.7 67.7,23 63.3,26.3 58.3,28 54.2,31.3 51.7,33.8 50.8,38.8 50,43 49,46.2 45.5,47.3 44.8,43 44,40.5 42,38 39.5,36 36,36.5 35,40 37.5,41.5 40.3,42 38.5,45 38.3,48.5 39.3,52 38.9,54.2 37.5,56.6 35.3,59.8 33.2,62.2 31.3,64.1 27.8,65.7 22.5,67.3Z" fill="#fff" stroke="#555" stroke-width="0.5"/>
<path d="M64.5,35 66,32.6 67,28.8 68.8,30.2 72.1,31 72.4,32.3 69.5,34.2 66.7,33.4 65,35Z" fill="#fff" stroke="#555" stroke-width="0.5"/>
<path d="M66.7,35.3 67.4,38.2 66,40.6 65.7,43.8 64.5,45.4 62.4,45.9 60.3,46 59.6,47.8 58.1,47.6 56.7,47 54.6,48.6 53.1,48.9 52.4,51.3 51,51.5 50.3,49.4 49.9,48.1 51.7,47 53.9,44.8 57.4,44.4 59.6,42.5 60.7,41.4 62.4,41.7 63.8,39.8 64.5,37.4 65,35.5Z" fill="#fff" stroke="#555" stroke-width="0.5"/>
<path d="M67.4,14.5 68.8,16.6 69.4,21.4 69.7,26.2 68,27.8 67.4,24.6 67.4,19.8 67.1,16.6Z" fill="#fff" stroke="#555" stroke-width="0.5"/>
<path d="M37.5,60.9 38.9,61.4 37.5,66.2 36.2,64.9 36.3,63Z" fill="#fff" stroke="#555" stroke-width="0.5"/>
<path d="M36.9,71.8 39.2,71.8 39.5,75 38.6,78 41.9,80.1 41.9,81.2 38.9,80 37,79 36.5,75.8Z" fill="#fff" stroke="#555" stroke-width="0.5"/>
<path d="M38.7,89.4 41,87.2 43.9,85.6 45.6,89.4 44.9,91.6 43.6,92.3 42,91 40.7,89.6 38.9,90.7Z" fill="#fff" stroke="#555" stroke-width="0.5"/>
<path d="M38.9,82.5 40.3,83 43.2,81.4 43.9,83.8 42.6,85.4 40.3,86.5 39.6,84.6Z" fill="#fff" stroke="#555" stroke-width="0.5"/>
<path d="M32.2,88 35.3,84.6 35.6,83.3 33.9,85.4 32,87.5Z" fill="#fff" stroke="#555" stroke-width="0.5"/>
<path d="M22.5,98.7 23.9,96.9 26.1,96.3 28.2,93.9 30.3,91.5 31.8,90.2 32.8,91.5 34.6,93.1 33.2,94.5 32.8,97.4 34.6,99.8 32.9,100.6 32.5,103 31.1,104.3 30.8,107 28.9,107.8 26.8,106.7 23.9,106.7 22.5,105.9Z" fill="#fff" stroke="#555" stroke-width="0.5"/>
<path d="M35.3,100.6 36.8,99.5 40.3,99.8 43.2,98.8 42.5,100.6 38.2,100.6 36.5,102.7 38.2,103 40.7,102.8 38.9,104.3 40,107.8 39.3,109.4 38.2,107.8 37.2,105.9 36.6,110.2 35.3,110.2 35.3,107 34.5,105.7 35.8,102.2Z" fill="#fff" stroke="#555" stroke-width="0.5"/>
<path d="M51.7,102.7 53.9,102 56,102.7 57.4,106.7 61,104.1 66,105.6 71,107.6 74.5,110.8 75.7,112.6 74.1,113.1 75.9,115 79.9,117.9 75.9,117.7 73.1,115 69.5,114.2 68.1,116.1 65.2,115 62.4,114.7 61.7,111.8 59.6,109.1 56,107.8 54.3,107.8 55.3,105.4 53.1,104.9Z" fill="#fff" stroke="#555" stroke-width="0.5"/>
<path d="M76.7,110.4 79.5,110.2 81.6,108.1 82.1,109.4 80.2,111.3 77.4,111.5Z" fill="#fff" stroke="#555" stroke-width="0.5"/>
<path d="M46.7,98.2 48.2,99.8 47.4,101.4 47.2,102.7 46.7,100.6Z" fill="#fff" stroke="#555" stroke-width="0.5"/>
<path d="M22.5,111.8 25.4,112.4 28.2,113.7 28.1,115.3 24.6,114.7 22.5,114.4Z" fill="#fff" stroke="#555" stroke-width="0.5"/>
<path d="M30.3,114.5 33.2,114.4 34.6,114.8 37.5,114.5 40.3,114.5 40,115.8 36.8,115.8 34.6,116 32.5,116 30.3,115.8Z" fill="#fff" stroke="#555" stroke-width="0.5"/>
<path d="M41,117.9 43.2,115.8 46.3,114.8 45.3,116.3 42.5,117.7Z" fill="#fff" stroke="#555" stroke-width="0.5"/>
<path d="M26.8,136.6 27.8,136.3 31.1,134.2 34.6,133.4 37.5,132.6 39.3,129.4 41,128.9 42.5,127 44.6,123.8 47,124.1 48.9,125.4 49.9,123 51,121.4 52.4,120.9 54,119.5 57.4,120.6 60,120.9 58.8,123 58.1,125.4 61,127 63.8,129.4 65.7,129.4 66.7,125.4 67,121.4 68.1,118.5 69.5,121.4 69.8,124.3 72.1,125.4 73.1,130.2 75.2,132.6 77.4,134.2 79.8,137.4 82.8,141.9 83.8,146.2 83.1,151 80.9,155 79.1,159 78.6,161.4 75.2,162.2 73.5,164 71,162.5 68.1,162.8 65.2,162.2 63.8,159 61.7,158.4 61.4,154.2 59.6,157.4 58.1,157.1 56.3,153.9 52.4,151.8 48.2,152.6 44.6,153.1 41.5,155.5 37.5,155.5 33.9,157.4 30.3,157.1 28.9,156.1 29.8,152.6 28.9,149.4 27.8,145.4 26.5,142.2 27.2,139Z" fill="#fff" stroke="#555" stroke-width="0.5"/>
<path d="M71.2,166.7 73.8,167 76.4,166.8 76.2,169.1 74.9,171 73.1,171 72.1,169.4Z" fill="#fff" stroke="#555" stroke-width="0.5"/>
<path d="M111.1,156.4 113,158.2 114.4,159.8 115.8,161.6 118.7,161.6 119.4,162.2 117.5,164.4 117,166 114.8,168 114,167.5 114.6,165.4 112.7,164.4 114,162.2 113.7,160.6 112.3,158.2Z" fill="#fff" stroke="#555" stroke-width="0.5"/>
<path d="M111.1,166.2 113.4,167.5 113,168.6 111.3,171.3 109.1,172.3 108.4,174.8 106.6,176 104.9,176 102.3,175 103.4,173.1 105.2,171.8 108,170.2 109.4,168.3Z" fill="#fff" stroke="#555" stroke-width="0.5"/>
<path d="M186,5.4 190,10 195,16.3 199,20 201.7,24.7 201,29 200.8,33 201.5,40 202.5,45 207,48.5 213.3,53 223.3,61.3 228.3,68 235,73 243.3,76.3 251.7,79.7 255.5,84 258,90 266.7,91.3 266.7,99.7 263.3,101.3 263.3,111.3 268.3,119.7 271.7,126 276,131 277.2,150 277.2,166 274,170 272.5,178 274,186 277,190 278,190 278,5.4Z" fill="#fff" stroke="#555" stroke-width="0.5"/>
<g fill="none" stroke="#444" stroke-width="0.35">
<path d="M216,50 L219,55 222,60.5 225,64 223.5,60 220.5,55 217.5,50.5"/>
<path d="M239.5,55 L238.5,60 239,65 241,70 244.5,72.5 248,72 249.5,68.5 252,67.5 253.5,69.5 252.5,73 251.5,76 254,78 258,80 260.5,83.5 260,87 262,90 266,91 269,89 273,88 278,88.5"/>
<path d="M239.5,55 L244,53.5 249,54 254,53 258,54.5 261,57.5 262.5,62 263.5,60 262.5,55.5 260,52 262,49 266,45 269,40 272,36 275,34 278,33"/>
<path d="M257,63.5 L261,63 266,65 270,67.5 267,67 262,65 258,64.5Z"/>
<path d="M271,68.5 L275,68 278,69.5 M271,68.5 L273.5,71 278,71.5"/>
<path d="M266,70.5 L269,70.2 269.5,71.3 266.5,71.5Z"/>
</g>
<g fill="#333"><circle cx="242.4" cy="54.9" r="0.25"/><circle cx="209.3" cy="45.3" r="0.5"/><circle cx="204.0" cy="36.4" r="0.25"/><circle cx="211.2" cy="37.3" r="0.4"/><circle cx="221.4" cy="52.7" r="0.4"/><circle cx="270.3" cy="58.8" r="0.4"/><circle cx="220.0" cy="34.6" r="0.3"/><circle cx="223.6" cy="46.5" r="0.5"/><circle cx="212.1" cy="43.6" r="0.5"/><circle cx="263.0" cy="23.8" r="0.3"/><circle cx="275.2" cy="52.4" r="0.25"/><circle cx="262.3" cy="33.5" r="0.3"/><circle cx="243.0" cy="30.9" r="0.3"/><circle cx="224.3" cy="44.8" r="0.5"/><circle cx="220.7" cy="26.1" r="0.25"/><circle cx="250.3" cy="51.7" r="0.4"/><circle cx="221.8" cy="25.2" r="0.5"/><circle cx="253.3" cy="36.8" r="0.25"/><circle cx="254.5" cy="57.5" r="0.5"/><circle cx="262.2" cy="27.8" r="0.5"/><circle cx="251.4" cy="29.4" r="0.25"/><circle cx="263.6" cy="42.0" r="0.3"/><circle cx="204.7" cy="22.7" r="0.25"/><circle cx="270.7" cy="20.3" r="0.4"/><circle cx="210.0" cy="44.2" r="0.5"/><circle cx="225.4" cy="31.0" r="0.3"/><circle cx="264.6" cy="56.1" r="0.5"/><circle cx="261.6" cy="30.1" r="0.4"/><circle cx="250.8" cy="69.1" r="0.4"/><circle cx="242.0" cy="63.1" r="0.3"/><circle cx="255.9" cy="60.2" r="0.25"/><circle cx="238.8" cy="45.5" r="0.5"/><circle cx="203.8" cy="20.4" r="0.3"/><circle cx="264.3" cy="16.1" r="0.3"/><circle cx="241.6" cy="63.8" r="0.5"/><circle cx="236.2" cy="54.8" r="0.3"/><circle cx="222.4" cy="57.1" r="0.3"/><circle cx="206.3" cy="27.2" r="0.5"/><circle cx="256.0" cy="30.8" r="0.4"/><circle cx="231.3" cy="43.2" r="0.4"/><circle cx="232.3" cy="66.5" r="0.5"/><circle cx="238.2" cy="54.6" r="0.25"/><circle cx="274.8" cy="31.4" r="0.5"/><circle cx="228.0" cy="61.2" r="0.4"/><circle cx="224.2" cy="25.3" r="0.25"/><circle cx="234.2" cy="50.4" r="0.5"/><circle cx="264.4" cy="42.9" r="0.4"/><circle cx="265.8" cy="72.9" r="0.3"/><circle cx="253.9" cy="64.0" r="0.5"/><circle cx="227.5" cy="60.0" r="0.25"/><circle cx="238.7" cy="63.2" r="0.3"/><circle cx="261.8" cy="68.2" r="0.3"/><circle cx="268.1" cy="36.8" r="0.5"/><circle cx="233.4" cy="48.6" r="0.4"/><circle cx="247.8" cy="31.7" r="0.5"/><circle cx="230.7" cy="60.4" r="0.5"/><circle cx="218.7" cy="39.1" r="0.3"/><circle cx="275.9" cy="35.2" r="0.4"/><circle cx="228.6" cy="47.2" r="0.3"/><circle cx="261.1" cy="49.8" r="0.25"/><circle cx="220.4" cy="34.3" r="0.25"/><circle cx="201.9" cy="10.5" r="0.3"/><circle cx="219.0" cy="54.7" r="0.25"/><circle cx="265.0" cy="48.6" r="0.4"/><circle cx="266.0" cy="17.9" r="0.3"/><circle cx="266.0" cy="60.9" r="0.25"/><circle cx="234.3" cy="52.3" r="0.25"/><circle cx="248.9" cy="29.5" r="0.25"/><circle cx="239.1" cy="66.1" r="0.25"/><circle cx="251.9" cy="68.7" r="0.25"/><circle cx="256.6" cy="38.9" r="0.25"/><circle cx="233.2" cy="69.1" r="0.5"/><circle cx="269.4" cy="52.1" r="0.3"/><circle cx="269.0" cy="57.3" r="0.25"/><circle cx="270.8" cy="65.5" r="0.5"/><circle cx="204.4" cy="43.3" r="0.3"/><circle cx="237.8" cy="52.6" r="0.4"/><circle cx="248.4" cy="47.2" r="0.25"/><circle cx="248.6" cy="45.8" r="0.4"/><circle cx="254.7" cy="28.2" r="0.4"/><circle cx="266.9" cy="37.2" r="0.4"/><circle cx="253.8" cy="37.0" r="0.4"/><circle cx="216.7" cy="41.6" r="0.5"/><circle cx="219.8" cy="47.9" r="0.4"/><circle cx="268.6" cy="33.3" r="0.5"/><circle cx="251.6" cy="67.9" r="0.25"/><circle cx="223.3" cy="57.1" r="0.3"/><circle cx="205.8" cy="33.3" r="0.25"/><circle cx="256.3" cy="44.0" r="0.4"/><circle cx="241.0" cy="43.2" r="0.25"/><circle cx="209.3" cy="19.3" r="0.25"/><circle cx="200.5" cy="9.5" r="0.3"/><circle cx="244.1" cy="19.6" r="0.4"/><circle cx="268.1" cy="39.2" r="0.5"/><circle cx="225.3" cy="29.8" r="0.3"/><circle cx="213.0" cy="26.9" r="0.5"/><circle cx="213.1" cy="47.6" r="0.4"/><circle cx="232.8" cy="35.4" r="0.25"/><circle cx="229.9" cy="16.5" r="0.3"/><circle cx="202.1" cy="13.1" r="0.4"/><circle cx="233.6" cy="55.4" r="0.5"/><circle cx="203.4" cy="16.8" r="0.4"/><circle cx="237.8" cy="25.6" r="0.25"/><circle cx="211.9" cy="43.6" r="0.4"/><circle cx="267.3" cy="31.0" r="0.5"/><circle cx="258.6" cy="27.9" r="0.4"/><circle cx="242.3" cy="27.1" r="0.3"/><circle cx="242.7" cy="52.6" r="0.4"/><circle cx="257.1" cy="30.4" r="0.4"/><circle cx="220.7" cy="27.7" r="0.4"/><circle cx="265.7" cy="72.4" r="0.3"/><circle cx="242.8" cy="30.8" r="0.5"/><circle cx="238.9" cy="33.0" r="0.3"/><circle cx="238.6" cy="71.8" r="0.4"/><circle cx="253.7" cy="72.6" r="0.3"/><circle cx="244.6" cy="25.6" r="0.25"/><circle cx="262.0" cy="70.3" r="0.25"/><circle cx="249.0" cy="21.3" r="0.5"/><circle cx="266.2" cy="17.9" r="0.5"/><circle cx="234.8" cy="58.7" r="0.4"/><circle cx="264.9" cy="63.9" r="0.25"/><circle cx="262.3" cy="23.1" r="0.5"/><circle cx="222.7" cy="29.6" r="0.25"/><circle cx="235.1" cy="33.4" r="0.25"/><circle cx="265.0" cy="68.3" r="0.3"/><circle cx="265.1" cy="40.0" r="0.25"/><circle cx="240.7" cy="43.9" r="0.5"/><circle cx="231.2" cy="63.5" r="0.3"/><circle cx="208.1" cy="42.7" r="0.4"/><circle cx="268.5" cy="59.5" r="0.4"/><circle cx="256.0" cy="68.2" r="0.5"/><circle cx="252.2" cy="36.3" r="0.25"/><circle cx="212.1" cy="42.4" r="0.5"/><circle cx="211.7" cy="18.6" r="0.5"/><circle cx="257.8" cy="53.9" r="0.5"/><circle cx="231.1" cy="56.6" r="0.5"/><circle cx="211.5" cy="44.2" r="0.4"/><circle cx="221.7" cy="21.6" r="0.4"/><circle cx="222.8" cy="25.0" r="0.5"/><circle cx="246.6" cy="66.2" r="0.5"/><circle cx="257.6" cy="74.1" r="0.4"/><circle cx="212.8" cy="30.5" r="0.5"/><circle cx="255.7" cy="54.9" r="0.25"/><circle cx="238.0" cy="53.2" r="0.5"/><circle cx="273.9" cy="21.2" r="0.5"/><circle cx="272.7" cy="38.2" r="0.3"/><circle cx="234.3" cy="23.2" r="0.25"/><circle cx="251.6" cy="64.9" r="0.3"/><circle cx="254.4" cy="73.5" r="0.5"/><circle cx="226.4" cy="17.1" r="0.25"/><circle cx="56.9" cy="14.6" r="0.4"/><circle cx="32.9" cy="55.4" r="0.25"/><circle cx="40.6" cy="30.4" r="0.3"/><circle cx="58.3" cy="25.1" r="0.25"/><circle cx="38.4" cy="25.5" r="0.3"/><circle cx="34.0" cy="36.1" r="0.4"/><circle cx="48.6" cy="39.9" r="0.25"/><circle cx="66.6" cy="15.2" r="0.4"/><circle cx="93.5" cy="7.6" r="0.4"/><circle cx="34.7" cy="44.5" r="0.25"/><circle cx="31.3" cy="44.9" r="0.3"/><circle cx="59.6" cy="15.4" r="0.25"/><circle cx="28.6" cy="53.7" r="0.25"/><circle cx="24.3" cy="38.3" r="0.25"/><circle cx="25.7" cy="60.8" r="0.25"/><circle cx="46.7" cy="29.1" r="0.3"/><circle cx="65.0" cy="11.0" r="0.4"/><circle cx="32.0" cy="35.4" r="0.4"/><circle cx="49.2" cy="35.4" r="0.25"/><circle cx="37.0" cy="27.9" r="0.25"/><circle cx="47.4" cy="7.3" r="0.3"/><circle cx="34.6" cy="48.6" r="0.3"/><circle cx="25.4" cy="26.8" r="0.4"/><circle cx="65.2" cy="14.4" r="0.25"/><circle cx="27.7" cy="51.3" r="0.25"/><circle cx="25.7" cy="36.4" r="0.3"/><circle cx="36.2" cy="43.0" r="0.25"/><circle cx="26.7" cy="48.3" r="0.4"/><circle cx="45.8" cy="40.2" r="0.4"/><circle cx="33.2" cy="41.2" r="0.4"/><circle cx="28.7" cy="53.1" r="0.25"/><circle cx="48.8" cy="15.0" r="0.4"/><circle cx="50.9" cy="32.4" r="0.4"/><circle cx="35.5" cy="48.9" r="0.25"/><circle cx="24.7" cy="44.6" r="0.4"/><circle cx="24.6" cy="54.2" r="0.3"/><circle cx="24.9" cy="51.9" r="0.4"/><circle cx="26.9" cy="29.2" r="0.25"/><circle cx="46.6" cy="21.8" r="0.4"/><circle cx="47.6" cy="35.7" r="0.4"/><circle cx="36.1" cy="33.3" r="0.4"/><circle cx="38.7" cy="32.6" r="0.4"/><circle cx="35.2" cy="52.8" r="0.3"/><circle cx="67.6" cy="13.1" r="0.4"/><circle cx="51.2" cy="19.4" r="0.25"/></g>

<path d="M22.5,101.3H147M262,101.3H278" stroke="#333" stroke-width="0.45" stroke-opacity="0.85" fill="none"/>
</g>
<rect x="19.6" y="3" width="261.4" height="197.1" fill="none" stroke="#000" stroke-width="0.5"/>
<rect x="22.5" y="5.4" width="255.5" height="192.1" fill="none" stroke="#000" stroke-width="0.5"/>
<rect x="36" y="3" width="85.7" height="2.4" fill="#000"/>
<rect x="36" y="197.5" width="85.7" height="2.6" fill="#000"/>
<rect x="206.7" y="3" width="71.3" height="2.4" fill="#000"/>
<rect x="206.7" y="197.5" width="71.3" height="2.6" fill="#000"/>
<rect x="19.6" y="5.4" width="2.9" height="32" fill="#000"/>
<rect x="278" y="5.4" width="3" height="32" fill="#000"/>
<rect x="19.6" y="69.4" width="2.9" height="32" fill="#000"/>
<rect x="278" y="69.4" width="3" height="32" fill="#000"/>
<rect x="19.6" y="133.4" width="2.9" height="32" fill="#000"/>
<rect x="278" y="133.4" width="3" height="32" fill="#000"/>
<g font-family="'Liberation Sans',Arial,sans-serif" font-size="9.2" fill="#000" stroke="#000" stroke-width="0.12">
<text x="16.9" y="8.8" text-anchor="end">60<tspan font-size="5.5" dy="-3.3">°</tspan></text>
<text x="283.2" y="8.8">60<tspan font-size="5.5" dy="-3.3">°</tspan></text>
<text x="16.9" y="40.8" text-anchor="end">40<tspan font-size="5.5" dy="-3.3">°</tspan></text>
<text x="283.2" y="40.8">40<tspan font-size="5.5" dy="-3.3">°</tspan></text>
<text x="16.9" y="72.8" text-anchor="end">20<tspan font-size="5.5" dy="-3.3">°</tspan></text>
<text x="283.2" y="72.8">20<tspan font-size="5.5" dy="-3.3">°</tspan></text>
<text x="16.9" y="104.8" text-anchor="end">0<tspan font-size="5.5" dy="-3.3">°</tspan></text>
<text x="283.2" y="104.8">0<tspan font-size="5.5" dy="-3.3">°</tspan></text>
<text x="16.9" y="136.8" text-anchor="end">-20<tspan font-size="5.5" dy="-3.3">°</tspan></text>
<text x="283.2" y="136.8">-20<tspan font-size="5.5" dy="-3.3">°</tspan></text>
<text x="16.9" y="168.8" text-anchor="end">-40<tspan font-size="5.5" dy="-3.3">°</tspan></text>
<text x="283.2" y="168.8">-40<tspan font-size="5.5" dy="-3.3">°</tspan></text>
<text x="16.9" y="200.8" text-anchor="end">-60<tspan font-size="5.5" dy="-3.3">°</tspan></text>
<text x="283.2" y="200.8">-60<tspan font-size="5.5" dy="-3.3">°</tspan></text>
<text x="36.3" y="209.1" text-anchor="middle">120<tspan font-size="5.5" dy="-3.3">°</tspan></text>
<text x="122.0" y="209.1" text-anchor="middle">180<tspan font-size="5.5" dy="-3.3">°</tspan></text>
<text x="207.0" y="209.1" text-anchor="middle">-120<tspan font-size="5.5" dy="-3.3">°</tspan></text>
<rect x="21.6" y="219.2" width="43" height="10.7" fill="url(#g0)"/>
<rect x="64.5" y="219.2" width="43" height="10.7" fill="url(#g1)"/>
<rect x="107.4" y="219.2" width="43" height="10.7" fill="url(#g2)"/>
<rect x="150.3" y="219.2" width="43" height="10.7" fill="url(#g3)"/>
<rect x="193.2" y="219.2" width="43" height="10.7" fill="url(#g4)"/>
<rect x="236.1" y="219.2" width="43" height="10.7" fill="url(#g5)"/>
<rect x="21.6" y="219.2" width="257.4" height="10.7" fill="none" stroke="#222" stroke-width="0.5"/>
<line x1="21.6" y1="229.9" x2="21.6" y2="231.8" stroke="#000" stroke-width="0.5"/>
<text x="21.6" y="241.2" text-anchor="middle" font-size="9">-120</text>
<line x1="64.5" y1="229.9" x2="64.5" y2="231.8" stroke="#000" stroke-width="0.5"/>
<text x="64.5" y="241.2" text-anchor="middle" font-size="9">-80</text>
<line x1="107.4" y1="229.9" x2="107.4" y2="231.8" stroke="#000" stroke-width="0.5"/>
<text x="107.4" y="241.2" text-anchor="middle" font-size="9">-40</text>
<line x1="150.3" y1="229.9" x2="150.3" y2="231.8" stroke="#000" stroke-width="0.5"/>
<text x="150.3" y="241.2" text-anchor="middle" font-size="9">0</text>
<line x1="193.2" y1="229.9" x2="193.2" y2="231.8" stroke="#000" stroke-width="0.5"/>
<text x="193.2" y="241.2" text-anchor="middle" font-size="9">40</text>
<line x1="236.1" y1="229.9" x2="236.1" y2="231.8" stroke="#000" stroke-width="0.5"/>
<text x="236.1" y="241.2" text-anchor="middle" font-size="9">80</text>
<line x1="279.0" y1="229.9" x2="279.0" y2="231.8" stroke="#000" stroke-width="0.5"/>
<text x="279.0" y="241.2" text-anchor="middle" font-size="9">120</text>
<text x="150.2" y="252.2" text-anchor="middle" font-size="10">mm</text>
</g>
<g font-family="'Liberation Serif','Times New Roman',serif" font-weight="bold" font-style="italic" fill="#000" stroke="#000" stroke-width="0.25">
<text x="23.8" y="18.8" font-size="16.5" textLength="19.4" lengthAdjust="spacingAndGlyphs">(a)</text>
<text x="207.5" y="19.7" font-size="14.5" textLength="65.5" lengthAdjust="spacingAndGlyphs">EOF1: 4%</text>
<text x="344.7" y="21.7" font-size="16.5" textLength="19.6" lengthAdjust="spacingAndGlyphs">(b)</text>
<text x="533" y="27.5" font-size="14" textLength="48.3" lengthAdjust="spacingAndGlyphs">-EOF Mode 1</text>
<text x="335" y="11.8" font-size="13" text-anchor="end" transform="translate(335 0) scale(0.78 1) translate(-335 0)">1</text>
<text x="335" y="64.0" font-size="13" text-anchor="end" transform="translate(335 0) scale(0.78 1) translate(-335 0)">0.5</text>
<text x="335" y="116.2" font-size="13" text-anchor="end" transform="translate(335 0) scale(0.78 1) translate(-335 0)">0</text>
<text x="335" y="168.4" font-size="13" text-anchor="end" transform="translate(335 0) scale(0.78 1) translate(-335 0)">-0.5</text>
<text x="335" y="220.6" font-size="13" text-anchor="end" transform="translate(335 0) scale(0.78 1) translate(-335 0)">-1</text>
<text x="342.2" y="239.2" font-size="14" text-anchor="middle" textLength="20" lengthAdjust="spacingAndGlyphs">1993</text>
<text x="403.3" y="239.2" font-size="14" text-anchor="middle" textLength="20" lengthAdjust="spacingAndGlyphs">1998</text>
<text x="464.3" y="239.2" font-size="14" text-anchor="middle" textLength="20" lengthAdjust="spacingAndGlyphs">2003</text>
<text x="525.3" y="239.2" font-size="14" text-anchor="middle" textLength="20" lengthAdjust="spacingAndGlyphs">2008</text>
<text x="586.3" y="239.2" font-size="14" text-anchor="middle" textLength="20" lengthAdjust="spacingAndGlyphs">2013</text>
<text x="462.2" y="255.8" font-size="15" text-anchor="middle" textLength="16.7" lengthAdjust="spacingAndGlyphs">Year</text>
<text transform="translate(314.5 112) rotate(-90)" font-size="10.3" text-anchor="middle" textLength="118.5" lengthAdjust="spacingAndGlyphs">Normalized values</text>
</g>
<g stroke="#222" stroke-width="1" fill="none">
<rect x="342.2" y="7.5" width="255.8" height="208.8"/>
<path d="M339.6,7.5h2.6M340.4,17.9h1.8M340.4,28.4h1.8M340.4,38.8h1.8M340.4,49.3h1.8M339.6,59.7h2.6M340.4,70.1h1.8M340.4,80.6h1.8M340.4,91.0h1.8M340.4,101.5h1.8M339.6,111.9h2.6M340.4,122.3h1.8M340.4,132.8h1.8M340.4,143.2h1.8M340.4,153.7h1.8M339.6,164.1h2.6M340.4,174.5h1.8M340.4,185.0h1.8M340.4,195.4h1.8M340.4,205.9h1.8M339.6,216.3h2.6M342.2,216.3v4.6M354.4,216.3v3.4M366.6,216.3v3.4M378.8,216.3v3.4M391.0,216.3v3.4M403.2,216.3v4.6M415.4,216.3v3.4M427.6,216.3v3.4M439.8,216.3v3.4M452.0,216.3v3.4M464.2,216.3v4.6M476.5,216.3v3.4M488.7,216.3v3.4M500.9,216.3v3.4M513.1,216.3v3.4M525.3,216.3v4.6M537.5,216.3v3.4M549.7,216.3v3.4M561.9,216.3v3.4M574.1,216.3v3.4M586.3,216.3v4.6"/>
</g>
<path d="M342,117.5 343.3,110.8 345,121.7 346.3,108 347.8,60 349.2,69.7 350,69.3 351,88.8 352.2,74.7 353.3,76.3 354.7,78.8 356,82.2 357.8,66 359.2,84.7 360,82.7 361,88 362,111.7 363,120 364.2,102.5 365.3,128.3 366.3,147 367.5,134 368.3,106.7 369.7,81.3 370.8,74.7 373,35.8 374.2,45.8 375.3,27 376.7,53.3 378,55.8 378.7,68 379.7,84.3 381,68.8 382,67.2 383,68.8 384.2,50 385.3,49.2 386.8,57.5 387.8,42.5 388.7,40.8 389.5,29.7 390.8,63.3 391.7,73 393,91.3 394.2,121.7 395.3,137 396.3,137.8 397.5,157 398.3,172 399.2,173.7 402.8,216 404.2,160.3 405.7,145.3 407,161.2 408,137 408.3,109.2 410,101.7 410.8,88 412.5,88.8 414,79.7 415.3,98 415.8,113.3 417,120.8 418,121.3 419.2,125.8 420.3,142 421.3,151.2 422.5,143.7 423.6,136.2 424.8,145.3 425.6,128.3 427,121.3 428.7,130 430,121.7 431,121 432.5,137 434.2,131.7 435.3,132.5 437,120 438,118.3 439.2,107.5 440.3,113.3 441.3,110 442.5,100.3 443.7,104.2 444.5,100.8 445.8,108.3 446.7,130 448,122.5 449.2,120.5 450.5,108.3 451,121.7 452,143.3 453.3,162.5 454.7,144.2 456.7,140.8 458,141.7 459,152.5 461.3,196.5 463.3,171.5 464.8,140 465.8,130 467,118.3 468,128 469.2,141.3 470.5,136.7 471.7,127.5 472.7,126.7 474,102.5 475.3,115.8 476.3,110.8 477.5,117.5 478.7,109.7 479.7,120 481.3,126.7 482.5,133.3 483.3,141.7 485,139.2 486.3,143.3 488,157 489.2,139.2 490,150.8 491.3,136.7 492.2,135.8 493.3,103.3 494.7,99.7 495.8,102.5 496.7,103.3 497.8,111.7 498.4,130.8 500,96.7 501.2,65 502.5,55.3 503.8,70 504.4,88 505,83.3 506.3,88.3 507.5,101.7 508.7,114.2 509.5,117 510.8,107.5 512,105.8 513.3,96.7 514.7,85 515.8,83.3 516.7,74.7 518,90 519.7,55.8 521.3,78 522.2,89.5 523.3,82.5 524.7,94 525.8,96.7 527,98.5 528.3,111.7 529.3,125 530.3,132.5 531.5,123 532.2,101.7 533.3,88.3 535,78.3 537,68.3 538.3,76.7 539.7,94.2 540.8,104.2 542,97.5 543,89.2 544.2,86.5 545,85 546.2,65 547.2,80 548,101.7 549.2,131.7 550,122.5 550.5,133.3 551.7,144.7 553,131.7 554.3,112.5 555,120 556.3,136.7 557.5,148.3 558.7,140 560.3,123.3 561.3,131.7 562.8,133.3 563.7,150 565.5,170.8 567,168.7 568.3,168.3 570.3,140 571.3,129.2 572.5,127.5 573.7,118.3 574.5,92 575.8,69.7 577,90.8 578.3,105 579.2,110.8 580,112 580.8,121.3 582,119.2 583.3,101.7 584.5,80 585.8,75 586.7,76 587.8,93.3 588.8,87.5 590,86 591.3,100 592.5,108.3 593.7,110 594.7,105 595.8,111.7 597,114.2 598,110" fill="none" stroke="#111" stroke-width="1.1" stroke-linejoin="round"/>
</svg></body></html>
